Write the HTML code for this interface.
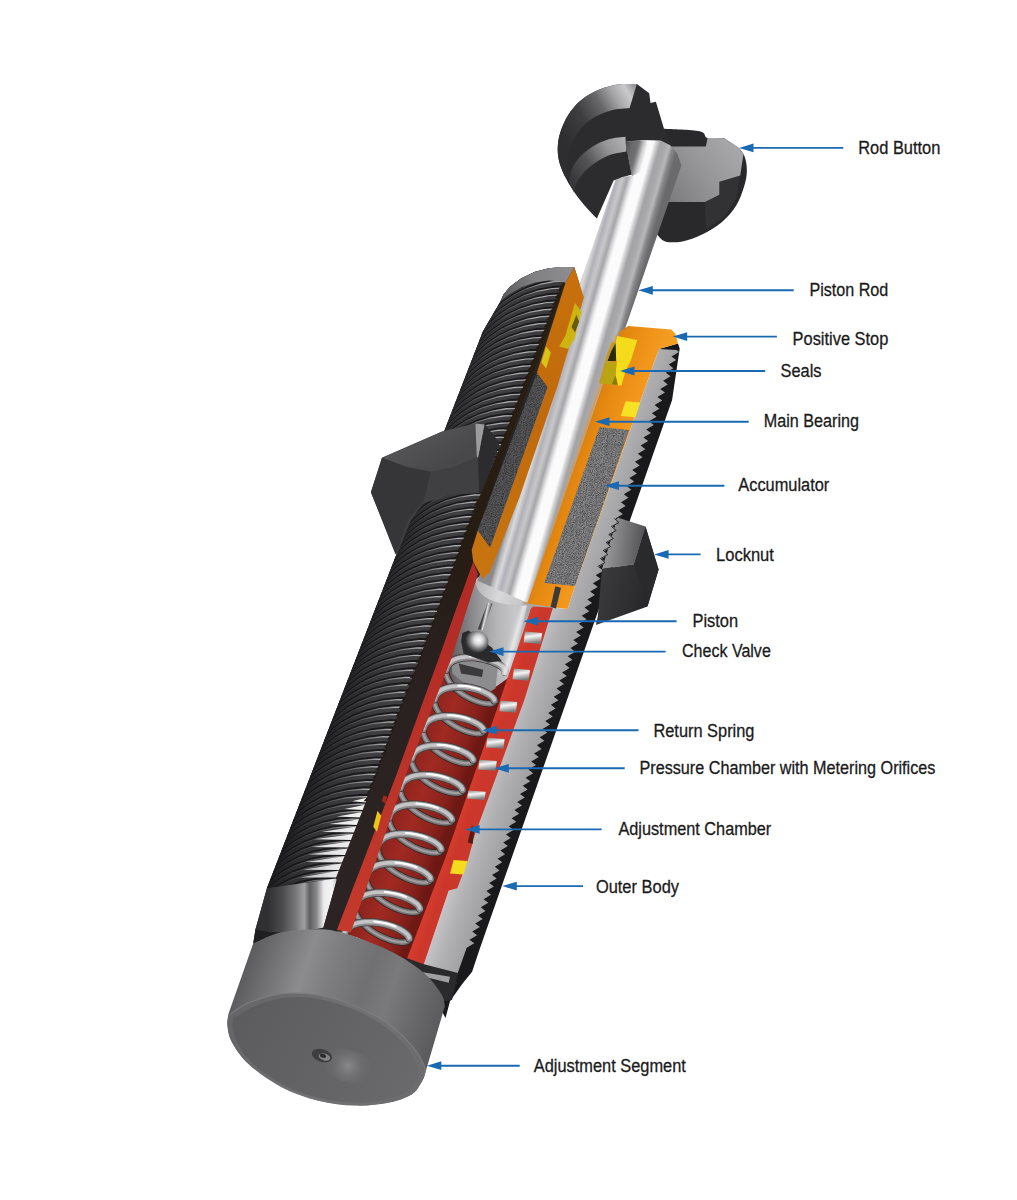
<!DOCTYPE html>
<html><head><meta charset="utf-8"><title>Shock absorber cutaway</title>
<style>html,body{margin:0;padding:0;background:#fff}svg{display:block}text{font-family:"Liberation Sans",sans-serif;font-size:19.2px;fill:#1a1a1a;stroke:#1a1a1a;stroke-width:0.3px}</style>
</head><body>
<svg width="1017" height="1200" viewBox="0 0 1017 1200">
<defs>
<filter id="nz" x="0" y="0" width="100%" height="100%"><feTurbulence type="fractalNoise" baseFrequency="1.1" numOctaves="2" seed="3" result="n"/><feColorMatrix type="matrix" values="0 0 0 0 0  0 0 0 0 0  0 0 0 0 0  0.55 0.55 0.55 0 -0.66" in="n" result="a"/><feComposite in="a" in2="SourceGraphic" operator="in"/></filter>
<pattern id="foamR" patternUnits="userSpaceOnUse" width="60" height="60"><rect width="60" height="60" fill="#88888a"/><rect width="60" height="60" fill="#4a4a4c" filter="url(#nz)"/></pattern>
<pattern id="foamL" patternUnits="userSpaceOnUse" width="60" height="60"><rect width="60" height="60" fill="#5a5a5c"/><rect width="60" height="60" fill="#2c2c2e" filter="url(#nz)"/></pattern>
<linearGradient id="g1" gradientUnits="userSpaceOnUse" x1="419.4" y1="467.8" x2="502.3" y2="497.3"><stop offset="0" stop-color="#141416"/><stop offset="0.5" stop-color="#1a1a1c"/><stop offset="1" stop-color="#161618"/></linearGradient>
<clipPath id="c2"><polygon points="574.3,267.2 562.6,266.9 548.8,268.3 535.1,271.8 521.3,278.2 510.3,286.5 503.4,294.7 500.6,301.2 483.0,331.3 266.9,888.3 335.7,878.4 367.7,797.3 426.7,640.0 479.1,498.3 502.9,440.7 562.6,283.7"/></clipPath>
<linearGradient id="thl" gradientUnits="userSpaceOnUse" x1="417.5" y1="467.1" x2="481.6" y2="489.9"><stop offset="0" stop-color="#232325"/><stop offset="0.25" stop-color="#3c3c3e"/><stop offset="0.5" stop-color="#58585a"/><stop offset="0.75" stop-color="#868688"/><stop offset="0.92" stop-color="#b0b0b2"/><stop offset="1" stop-color="#a0a0a2"/></linearGradient>
<linearGradient id="thm" gradientUnits="userSpaceOnUse" x1="417.5" y1="467.1" x2="481.6" y2="489.9"><stop offset="0" stop-color="#1c1c1e"/><stop offset="0.25" stop-color="#2c2c2e"/><stop offset="0.5" stop-color="#38383a"/><stop offset="0.8" stop-color="#404042"/><stop offset="1" stop-color="#3a3a3c"/></linearGradient>
<linearGradient id="g5" gradientUnits="userSpaceOnUse" x1="500.6" y1="291.3" x2="574.3" y2="270.6"><stop offset="0" stop-color="#5a5a5c"/><stop offset="0.45" stop-color="#808082"/><stop offset="1" stop-color="#8e8e90"/></linearGradient>
<linearGradient id="g6" gradientUnits="userSpaceOnUse" x1="267.8" y1="894.7" x2="337.8" y2="894.7"><stop offset="0" stop-color="#303032"/><stop offset="0.2" stop-color="#4a4a4c"/><stop offset="0.4" stop-color="#77777a"/><stop offset="0.52" stop-color="#a0a0a2"/><stop offset="0.6" stop-color="#5e5e60"/><stop offset="0.7" stop-color="#8a8a8c"/><stop offset="0.8" stop-color="#ececee"/><stop offset="0.92" stop-color="#f4f4f4"/><stop offset="1" stop-color="#b0b0b2"/></linearGradient>
<linearGradient id="teethg" gradientUnits="userSpaceOnUse" x1="303.7" y1="836.7" x2="357.8" y2="836.7"><stop offset="0" stop-color="#bcbcbe"/><stop offset="0.5" stop-color="#e4e4e6"/><stop offset="1" stop-color="#f0f0f0"/></linearGradient>
<linearGradient id="g8" gradientUnits="userSpaceOnUse" x1="370.9" y1="492.2" x2="482.7" y2="461.5"><stop offset="0" stop-color="#3c3c3e"/><stop offset="0.5" stop-color="#424244"/><stop offset="1" stop-color="#38383a"/></linearGradient>
<linearGradient id="g9" gradientUnits="userSpaceOnUse" x1="411.5" y1="432.0" x2="436.0" y2="471.3"><stop offset="0" stop-color="#565658"/><stop offset="1" stop-color="#48484a"/></linearGradient>
<linearGradient id="g10" gradientUnits="userSpaceOnUse" x1="339.8" y1="864.1" x2="424.6" y2="894.3"><stop offset="0" stop-color="#5a1410"/><stop offset="0.25" stop-color="#82201a"/><stop offset="0.6" stop-color="#a02a22"/><stop offset="0.85" stop-color="#8a221c"/><stop offset="1" stop-color="#6e1814"/></linearGradient>
<linearGradient id="g11" gradientUnits="userSpaceOnUse" x1="448.8" y1="641.5" x2="527.5" y2="641.5"><stop offset="0" stop-color="#5a5a5c"/><stop offset="0.3" stop-color="#8a8a8c"/><stop offset="0.6" stop-color="#b4b4b6"/><stop offset="0.85" stop-color="#c8c8ca"/><stop offset="1" stop-color="#a8a8aa"/></linearGradient>
<linearGradient id="pin" gradientUnits="userSpaceOnUse" x1="483.2" y1="616.9" x2="488.2" y2="618.1"><stop offset="0" stop-color="#444"/><stop offset="0.4" stop-color="#e0e0e0"/><stop offset="1" stop-color="#666"/></linearGradient>
<radialGradient id="g13" gradientUnits="userSpaceOnUse" cx="478.4" cy="639.9" r="13.0" ><stop offset="0" stop-color="#ffffff"/><stop offset="0.35" stop-color="#d8d8d8"/><stop offset="0.7" stop-color="#77777a"/><stop offset="1" stop-color="#2e2e30"/></radialGradient>
<linearGradient id="g14" gradientUnits="userSpaceOnUse" x1="475.4" y1="587.7" x2="522.6" y2="599.5"><stop offset="0" stop-color="#b4b4b6"/><stop offset="0.5" stop-color="#d8d8da"/><stop offset="1" stop-color="#c6c6c8"/></linearGradient>
<linearGradient id="g15" gradientUnits="userSpaceOnUse" x1="506.1" y1="640.8" x2="522.6" y2="645.5"><stop offset="0" stop-color="#c0c0c2" stop-opacity="0"/><stop offset="0.45" stop-color="#ececee" stop-opacity="0.9"/><stop offset="0.7" stop-color="#d0d0d2" stop-opacity="0.7"/><stop offset="1" stop-color="#b0b0b2" stop-opacity="0"/></linearGradient>
<linearGradient id="g16" gradientUnits="userSpaceOnUse" x1="562.0" y1="133.7" x2="638.2" y2="89.5"><stop offset="0" stop-color="#2e2e30"/><stop offset="0.3" stop-color="#3e3e40"/><stop offset="0.55" stop-color="#68686a"/><stop offset="0.72" stop-color="#a2a2a4"/><stop offset="0.88" stop-color="#cacacc"/><stop offset="1" stop-color="#8e8e90"/></linearGradient>
<linearGradient id="g17" gradientUnits="userSpaceOnUse" x1="570.6" y1="178.0" x2="628.3" y2="141.1"><stop offset="0" stop-color="#38383a"/><stop offset="0.35" stop-color="#545456"/><stop offset="0.7" stop-color="#969698"/><stop offset="1" stop-color="#b4b4b6"/></linearGradient>
<linearGradient id="g18" gradientUnits="userSpaceOnUse" x1="667.7" y1="197.7" x2="738.9" y2="143.6"><stop offset="0" stop-color="#7c7c7e"/><stop offset="0.5" stop-color="#969698"/><stop offset="1" stop-color="#aaaaac"/></linearGradient>
<linearGradient id="g19" gradientUnits="userSpaceOnUse" x1="556.1" y1="350.0" x2="615.7" y2="366.9"><stop offset="0" stop-color="#8a8a8c"/><stop offset="0.05" stop-color="#b8b8ba"/><stop offset="0.11" stop-color="#dadadc"/><stop offset="0.19" stop-color="#b0b0b8"/><stop offset="0.27" stop-color="#c8c8ca"/><stop offset="0.35" stop-color="#a6a6a8"/><stop offset="0.42" stop-color="#e4e4e6"/><stop offset="0.46" stop-color="#fbfbfb"/><stop offset="0.6" stop-color="#fbfbfb"/><stop offset="0.65" stop-color="#d0d0d2"/><stop offset="0.71" stop-color="#a4a4a6"/><stop offset="0.79" stop-color="#a8a8aa"/><stop offset="0.86" stop-color="#b8b8ba"/><stop offset="0.92" stop-color="#88888a"/><stop offset="1" stop-color="#6a6a6c"/></linearGradient>
<linearGradient id="g20" gradientUnits="userSpaceOnUse" x1="613.9" y1="335.0" x2="619.4" y2="336.8"><stop offset="0" stop-color="#d8964a" stop-opacity="0"/><stop offset="0.5" stop-color="#d8964a" stop-opacity="0.75"/><stop offset="1" stop-color="#c88a40" stop-opacity="0.3"/></linearGradient>
<linearGradient id="g21" gradientUnits="userSpaceOnUse" x1="625.4" y1="141.8" x2="647.4" y2="147.8"><stop offset="0" stop-color="#444446" stop-opacity="0.92"/><stop offset="0.6" stop-color="#5e5e60" stop-opacity="0.7"/><stop offset="1" stop-color="#808082" stop-opacity="0.0"/></linearGradient>
<linearGradient id="g22" gradientUnits="userSpaceOnUse" x1="560.0" y1="285.0" x2="340.0" y2="930.0"><stop offset="0" stop-color="#2a2010"/><stop offset="0.4" stop-color="#261c12"/><stop offset="0.6" stop-color="#2a2020"/><stop offset="1" stop-color="#2c2424"/></linearGradient>
<linearGradient id="g23" gradientUnits="userSpaceOnUse" x1="575.0" y1="270.0" x2="480.0" y2="570.0"><stop offset="0" stop-color="#c8700c"/><stop offset="0.5" stop-color="#c06a0c"/><stop offset="1" stop-color="#c87410"/></linearGradient>
<linearGradient id="g24" gradientUnits="userSpaceOnUse" x1="470.0" y1="565.0" x2="345.0" y2="930.0"><stop offset="0" stop-color="#b02a24"/><stop offset="1" stop-color="#c43a2c"/></linearGradient>
<linearGradient id="g25" gradientUnits="userSpaceOnUse" x1="477.0" y1="806.8" x2="516.6" y2="820.8"><stop offset="0" stop-color="#c6c6c8"/><stop offset="0.4" stop-color="#b2b2b4"/><stop offset="1" stop-color="#9e9ea0"/></linearGradient>
<linearGradient id="g26" gradientUnits="userSpaceOnUse" x1="515.8" y1="608.3" x2="581.8" y2="631.8"><stop offset="0" stop-color="#d87c0c"/><stop offset="0.25" stop-color="#e68a12"/><stop offset="0.6" stop-color="#f2961c"/><stop offset="1" stop-color="#f8a42a"/></linearGradient>
<linearGradient id="g27" gradientUnits="userSpaceOnUse" x1="398.4" y1="938.0" x2="422.9" y2="946.7"><stop offset="0" stop-color="#c93629"/><stop offset="0.5" stop-color="#d83d2e"/><stop offset="1" stop-color="#cb372a"/></linearGradient>
<linearGradient id="pinh" x1="0" y1="0" x2="0.2" y2="1"><stop offset="0" stop-color="#8a8a8c"/><stop offset="0.45" stop-color="#f6f6f6"/><stop offset="1" stop-color="#7a7a7c"/></linearGradient>
<linearGradient id="g28" gradientUnits="userSpaceOnUse" x1="605.7" y1="542.6" x2="645.0" y2="547.5"><stop offset="0" stop-color="#9a9a9c"/><stop offset="0.4" stop-color="#7c7c7e"/><stop offset="1" stop-color="#505052"/></linearGradient>
<linearGradient id="g29" gradientUnits="userSpaceOnUse" x1="603.2" y1="572.1" x2="657.3" y2="586.8"><stop offset="0" stop-color="#3a3a3c"/><stop offset="0.6" stop-color="#2e2e30"/><stop offset="1" stop-color="#262628"/></linearGradient>
<linearGradient id="g30" gradientUnits="userSpaceOnUse" x1="184.2" y1="1116.5" x2="383.9" y2="1187.6"><stop offset="0" stop-color="#565658"/><stop offset="0.1" stop-color="#68686a"/><stop offset="0.3" stop-color="#8c8c8e"/><stop offset="0.42" stop-color="#7e7e80"/><stop offset="0.6" stop-color="#707072"/><stop offset="0.72" stop-color="#7a7a7c"/><stop offset="0.85" stop-color="#6a6a6c"/><stop offset="1" stop-color="#5a5a5c"/></linearGradient>
<clipPath id="cc31"><path d="M253.2 943.4 C257.9 941.5 270.6 934.6 281.5 932.3 C292.4 929.9 308.9 929.4 318.3 929.3 C327.7 929.2 331.4 930.4 338.0 931.8 C344.6 933.2 348.7 934.3 357.7 937.7 C366.7 941.1 381.1 946.1 392.1 952.0 C403.2 957.9 415.8 965.9 424.0 972.9 C432.2 979.9 437.7 988.2 441.2 993.7 C444.7 999.2 444.3 1004.0 444.9 1006.0 L424.0 1077.3 L421.6 1082.2 C420.0 1084.2 417.4 1091.0 411.7 1094.5 C406.0 1098.0 396.6 1101.2 387.2 1103.1 C377.8 1104.9 366.7 1106.0 355.2 1105.6 C343.7 1105.2 330.6 1103.8 318.3 1100.7 C306.0 1097.6 293.0 1093.2 281.5 1087.2 C270.0 1081.2 257.7 1072.4 249.5 1065.0 C241.3 1057.6 236.0 1049.5 232.3 1042.9 C228.6 1036.4 228.0 1030.6 227.4 1025.7 C226.8 1020.8 228.4 1015.5 228.6 1013.4Z"/></clipPath>
<linearGradient id="g32" gradientUnits="userSpaceOnUse" x1="240.0" y1="1010.0" x2="420.0" y2="1090.0"><stop offset="0" stop-color="#666668"/><stop offset="0.5" stop-color="#727274"/><stop offset="1" stop-color="#6c6c6e"/></linearGradient>
<linearGradient id="g33" gradientUnits="userSpaceOnUse" x1="240.0" y1="1010.0" x2="410.0" y2="1100.0"><stop offset="0" stop-color="#5c5c5e"/><stop offset="0.5" stop-color="#636365"/><stop offset="1" stop-color="#6a6a6c"/></linearGradient>
<radialGradient id="g34" gradientUnits="userSpaceOnUse" cx="348.0" cy="1066.0" r="28.0" ><stop offset="0" stop-color="#909092" stop-opacity="0.85"/><stop offset="0.5" stop-color="#77777a" stop-opacity="0.4"/><stop offset="1" stop-color="#666668" stop-opacity="0"/></radialGradient></defs>
<polygon points="574.3,267.2 562.6,266.9 548.8,268.3 535.1,271.8 521.3,278.2 510.3,286.5 503.4,294.7 500.6,301.2 483.0,331.3 266.9,888.3 255.5,929.2 253.2,943.4 338.0,931.8 352.9,932.4 458.6,640.0 477.8,580.7 519.5,497.3 557.2,387.2 583.9,297.5" fill="#262628" />
<polygon points="574.3,267.2 562.6,266.9 548.8,268.3 535.1,271.8 521.3,278.2 510.3,286.5 503.4,294.7 500.6,301.2 483.0,331.3 266.9,888.3 335.7,878.4 367.7,797.3 426.7,640.0 479.1,498.3 502.9,440.7 562.6,283.7" fill="url(#g1)" />
<g clip-path="url(#c2)">
<polygon points="475.1,340.8 479.2,327.8 484.4,317.0 490.9,306.9 498.7,297.8 507.7,289.6 519.2,281.7 531.9,275.4 545.4,270.9 559.5,268.2 574.0,267.5 592.1,269.3 590.8,272.9 572.6,271.1 558.1,271.9 544.0,274.5 530.5,279.0 517.8,285.3 506.3,293.2 497.3,301.3 489.5,310.5 483.0,320.6 477.8,331.4 473.7,344.4" fill="url(#thm)" />
<polygon points="475.7,339.5 479.8,326.4 484.9,315.6 491.4,305.6 499.3,296.4 508.2,288.2 519.8,280.3 532.4,274.0 545.9,269.5 560.0,266.8 574.5,266.1 592.7,267.9 592.1,269.3 574.0,267.5 559.5,268.2 545.4,270.9 531.9,275.4 519.2,281.7 507.7,289.6 498.7,297.8 490.9,306.9 484.4,317.0 479.2,327.8 475.1,340.8" fill="url(#thl)" />
<polygon points="472.5,347.7 476.6,334.7 481.7,323.9 488.2,313.8 496.1,304.7 505.0,296.5 516.6,288.6 529.2,282.4 542.7,277.9 556.9,275.2 571.4,274.5 589.5,276.3 588.2,279.9 570.0,278.2 555.5,278.9 541.3,281.5 527.8,286.0 515.2,292.2 503.6,300.1 494.7,308.3 486.8,317.4 480.3,327.5 475.2,338.2 471.1,351.2" fill="url(#thm)" />
<polygon points="473.0,346.3 477.1,333.3 482.2,322.5 488.8,312.5 496.6,303.3 505.6,295.1 517.1,287.2 529.7,281.0 543.3,276.5 557.4,273.8 571.9,273.1 590.0,274.9 589.5,276.3 571.4,274.5 556.9,275.2 542.7,277.9 529.2,282.4 516.6,288.6 505.0,296.5 496.1,304.7 488.2,313.8 481.7,323.9 476.6,334.7 472.5,347.7" fill="url(#thl)" />
<polygon points="469.8,354.5 473.9,341.5 479.0,330.8 485.6,320.7 493.4,311.6 502.4,303.5 513.9,295.6 526.5,289.3 540.1,284.9 554.2,282.2 568.7,281.5 586.9,283.3 585.5,287.0 567.3,285.2 552.8,285.9 538.7,288.5 525.1,293.0 512.5,299.2 501.0,307.1 492.0,315.2 484.2,324.3 477.7,334.3 472.5,345.1 468.4,358.1" fill="url(#thm)" />
<polygon points="470.3,353.2 474.4,340.2 479.6,329.4 486.1,319.4 493.9,310.2 502.9,302.1 514.4,294.2 527.1,287.9 540.6,283.5 554.8,280.8 569.2,280.1 587.4,281.9 586.9,283.3 568.7,281.5 554.2,282.2 540.1,284.9 526.5,289.3 513.9,295.6 502.4,303.5 493.4,311.6 485.6,320.7 479.0,330.8 473.9,341.5 469.8,354.5" fill="url(#thl)" />
<polygon points="467.2,361.4 471.2,348.4 476.4,337.7 482.9,327.6 490.7,318.5 499.7,310.4 511.2,302.5 523.9,296.3 537.4,291.9 551.6,289.3 566.1,288.6 584.3,290.4 582.9,294.0 564.7,292.2 550.2,292.9 536.0,295.5 522.5,300.0 509.8,306.2 498.3,314.0 489.3,322.1 481.5,331.2 475.0,341.2 469.8,352.0 465.8,364.9" fill="url(#thm)" />
<polygon points="467.7,360.0 471.8,347.0 476.9,336.3 483.4,326.3 491.2,317.1 500.2,309.0 511.7,301.2 524.4,294.9 537.9,290.5 552.1,287.9 566.6,287.2 584.8,289.0 584.3,290.4 566.1,288.6 551.6,289.3 537.4,291.9 523.9,296.3 511.2,302.5 499.7,310.4 490.7,318.5 482.9,327.6 476.4,337.7 471.2,348.4 467.2,361.4" fill="url(#thl)" />
<polygon points="464.5,368.2 468.6,355.3 473.7,344.6 480.2,334.6 488.0,325.5 497.0,317.4 508.5,309.5 521.2,303.3 534.7,298.9 548.9,296.3 563.4,295.6 581.6,297.4 580.3,301.1 562.1,299.3 547.5,299.9 533.4,302.5 519.8,307.0 507.1,313.1 495.6,321.0 486.6,329.1 478.8,338.2 472.3,348.1 467.2,358.9 463.1,371.8" fill="url(#thm)" />
<polygon points="465.0,366.9 469.1,353.9 474.2,343.2 480.7,333.2 488.6,324.1 497.5,316.0 509.1,308.1 521.7,301.9 535.3,297.5 549.4,294.9 564.0,294.2 582.2,296.0 581.6,297.4 563.4,295.6 548.9,296.3 534.7,298.9 521.2,303.3 508.5,309.5 497.0,317.4 488.0,325.5 480.2,334.6 473.7,344.6 468.6,355.3 464.5,368.2" fill="url(#thl)" />
<polygon points="461.8,375.1 465.9,362.2 471.0,351.5 477.5,341.5 485.3,332.4 494.3,324.3 505.9,316.5 518.5,310.3 532.1,305.9 546.3,303.3 560.8,302.6 579.0,304.5 577.6,308.1 559.4,306.3 544.9,307.0 530.7,309.5 517.1,314.0 504.5,320.1 492.9,327.9 483.9,336.0 476.1,345.1 469.6,355.1 464.5,365.8 460.4,378.7" fill="url(#thm)" />
<polygon points="462.4,373.7 466.4,360.8 471.6,350.1 478.1,340.1 485.9,331.0 494.9,322.9 506.4,315.1 519.1,308.9 532.6,304.5 546.8,301.9 561.3,301.2 579.5,303.1 579.0,304.5 560.8,302.6 546.3,303.3 532.1,305.9 518.5,310.3 505.9,316.5 494.3,324.3 485.3,332.4 477.5,341.5 471.0,351.5 465.9,362.2 461.8,375.1" fill="url(#thl)" />
<polygon points="459.2,382.0 463.2,369.1 468.3,358.4 474.8,348.4 482.7,339.3 491.6,331.3 503.2,323.5 515.8,317.3 529.4,312.9 543.6,310.4 558.1,309.7 576.4,311.5 575.0,315.2 556.8,313.4 542.2,314.0 528.0,316.6 514.5,321.0 501.8,327.1 490.2,334.9 481.3,343.0 473.5,352.0 466.9,362.0 461.8,372.6 457.8,385.6" fill="url(#thm)" />
<polygon points="459.7,380.6 463.8,367.7 468.9,357.0 475.4,347.0 483.2,337.9 492.2,329.9 503.7,322.1 516.4,315.9 529.9,311.5 544.1,308.9 558.7,308.3 576.9,310.1 576.4,311.5 558.1,309.7 543.6,310.4 529.4,312.9 515.8,317.3 503.2,323.5 491.6,331.3 482.7,339.3 474.8,348.4 468.3,358.4 463.2,369.1 459.2,382.0" fill="url(#thl)" />
<polygon points="456.5,388.9 460.5,376.0 465.7,365.3 472.2,355.3 480.0,346.3 489.0,338.3 500.5,330.5 513.2,324.3 526.7,319.9 540.9,317.4 555.5,316.7 573.7,318.6 572.4,322.3 554.1,320.4 539.6,321.1 525.3,323.6 511.8,328.0 499.1,334.1 487.6,341.9 478.6,349.9 470.8,359.0 464.3,368.9 459.1,379.5 455.1,392.4" fill="url(#thm)" />
<polygon points="457.0,387.5 461.1,374.6 466.2,363.9 472.7,354.0 480.5,344.9 489.5,336.9 501.0,329.1 513.7,322.9 527.3,318.5 541.5,316.0 556.0,315.3 574.3,317.2 573.7,318.6 555.5,316.7 540.9,317.4 526.7,319.9 513.2,324.3 500.5,330.5 489.0,338.3 480.0,346.3 472.2,355.3 465.7,365.3 460.5,376.0 456.5,388.9" fill="url(#thl)" />
<polygon points="453.8,395.7 457.9,382.9 463.0,372.2 469.5,362.3 477.3,353.3 486.3,345.2 497.8,337.5 510.5,331.3 524.1,327.0 538.3,324.4 552.8,323.8 571.1,325.7 569.7,329.4 551.5,327.5 536.9,328.1 522.7,330.6 509.1,335.0 496.4,341.1 484.9,348.9 475.9,356.9 468.1,365.9 461.6,375.8 456.5,386.5 452.4,399.3" fill="url(#thm)" />
<polygon points="454.4,394.4 458.4,381.5 463.5,370.8 470.0,360.9 477.8,351.9 486.8,343.8 498.3,336.1 511.0,329.9 524.6,325.6 538.8,323.0 553.4,322.4 571.6,324.3 571.1,325.7 552.8,323.8 538.3,324.4 524.1,327.0 510.5,331.3 497.8,337.5 486.3,345.2 477.3,353.3 469.5,362.3 463.0,372.2 457.9,382.9 453.8,395.7" fill="url(#thl)" />
<polygon points="451.1,402.6 455.2,389.8 460.3,379.1 466.8,369.2 474.6,360.2 483.6,352.2 495.1,344.5 507.8,338.4 521.4,334.0 535.6,331.5 550.2,330.9 568.5,332.8 567.1,336.5 548.8,334.6 534.2,335.2 520.0,337.7 506.4,342.0 493.7,348.1 482.2,355.9 473.2,363.8 465.4,372.8 458.9,382.7 453.8,393.4 449.8,406.2" fill="url(#thm)" />
<polygon points="451.7,401.2 455.7,388.4 460.8,377.7 467.3,367.8 475.1,358.8 484.1,350.8 495.7,343.1 508.3,337.0 521.9,332.6 536.1,330.1 550.7,329.5 569.0,331.4 568.5,332.8 550.2,330.9 535.6,331.5 521.4,334.0 507.8,338.4 495.1,344.5 483.6,352.2 474.6,360.2 466.8,369.2 460.3,379.1 455.2,389.8 451.1,402.6" fill="url(#thl)" />
<polygon points="448.5,409.5 452.5,396.7 457.6,386.1 464.1,376.2 471.9,367.2 480.9,359.2 492.4,351.5 505.1,345.4 518.7,341.1 532.9,338.6 547.5,338.0 565.8,339.9 564.5,343.5 546.1,341.6 531.5,342.2 517.3,344.7 503.7,349.1 491.0,355.1 479.5,362.8 470.5,370.8 462.7,379.8 456.2,389.7 451.1,400.3 447.1,413.1" fill="url(#thm)" />
<polygon points="449.0,408.1 453.0,395.3 458.1,384.7 464.6,374.8 472.4,365.8 481.4,357.8 493.0,350.1 505.7,344.0 519.2,339.7 533.5,337.2 548.1,336.5 566.4,338.4 565.8,339.9 547.5,338.0 532.9,338.6 518.7,341.1 505.1,345.4 492.4,351.5 480.9,359.2 471.9,367.2 464.1,376.2 457.6,386.1 452.5,396.7 448.5,409.5" fill="url(#thl)" />
<polygon points="445.8,416.4 449.8,403.6 454.9,393.0 461.4,383.1 469.2,374.2 478.2,366.2 489.7,358.5 502.4,352.4 516.0,348.1 530.3,345.6 544.9,345.0 563.2,347.0 561.8,350.7 543.5,348.7 528.9,349.3 514.6,351.8 501.0,356.1 488.3,362.2 476.8,369.8 467.8,377.8 460.0,386.8 453.5,396.6 448.4,407.2 444.4,420.0" fill="url(#thm)" />
<polygon points="446.3,415.0 450.3,402.2 455.4,391.6 461.9,381.8 469.7,372.8 478.7,364.8 490.3,357.1 503.0,351.0 516.6,346.7 530.8,344.2 545.4,343.6 563.7,345.5 563.2,347.0 544.9,345.0 530.3,345.6 516.0,348.1 502.4,352.4 489.7,358.5 478.2,366.2 469.2,374.2 461.4,383.1 454.9,393.0 449.8,403.6 445.8,416.4" fill="url(#thl)" />
<polygon points="443.1,423.3 447.1,410.5 452.2,400.0 458.7,390.1 466.5,381.2 475.5,373.2 487.0,365.5 499.7,359.5 513.3,355.2 527.6,352.7 542.2,352.1 560.5,354.1 559.2,357.8 540.8,355.8 526.2,356.4 511.9,358.9 498.3,363.1 485.6,369.2 474.1,376.9 465.1,384.8 457.3,393.7 450.8,403.6 445.7,414.1 441.7,426.9" fill="url(#thm)" />
<polygon points="443.7,421.9 447.7,409.2 452.7,398.6 459.2,388.7 467.0,379.8 476.0,371.8 487.6,364.1 500.3,358.1 513.9,353.8 528.1,351.3 542.7,350.7 561.1,352.6 560.5,354.1 542.2,352.1 527.6,352.7 513.3,355.2 499.7,359.5 487.0,365.5 475.5,373.2 466.5,381.2 458.7,390.1 452.2,400.0 447.1,410.5 443.1,423.3" fill="url(#thl)" />
<polygon points="440.4,430.2 444.4,417.5 449.5,406.9 456.0,397.1 463.8,388.1 472.8,380.2 484.3,372.6 497.0,366.5 510.7,362.2 524.9,359.8 539.5,359.2 557.9,361.2 556.5,364.9 538.1,362.9 523.5,363.5 509.3,365.9 495.6,370.2 482.9,376.2 471.4,383.9 462.4,391.8 454.6,400.7 448.1,410.5 443.0,421.1 439.0,433.8" fill="url(#thm)" />
<polygon points="441.0,428.9 445.0,416.1 450.1,405.5 456.5,395.7 464.3,386.7 473.3,378.8 484.9,371.2 497.6,365.1 511.2,360.8 525.5,358.4 540.1,357.8 558.4,359.7 557.9,361.2 539.5,359.2 524.9,359.8 510.7,362.2 497.0,366.5 484.3,372.6 472.8,380.2 463.8,388.1 456.0,397.1 449.5,406.9 444.4,417.5 440.4,430.2" fill="url(#thl)" />
<polygon points="437.7,437.2 441.7,424.4 446.8,413.9 453.3,404.1 461.1,395.1 470.1,387.2 481.6,379.6 494.3,373.6 508.0,369.3 522.2,366.9 536.9,366.3 555.2,368.3 553.9,372.0 535.5,370.0 520.8,370.6 506.6,373.0 492.9,377.3 480.2,383.3 468.7,390.9 459.7,398.8 451.9,407.7 445.4,417.5 440.3,428.0 436.3,440.8" fill="url(#thm)" />
<polygon points="438.3,435.8 442.3,423.0 447.4,412.5 453.8,402.7 461.6,393.7 470.6,385.8 482.2,378.2 494.9,372.2 508.5,367.9 522.8,365.5 537.4,364.9 555.8,366.9 555.2,368.3 536.9,366.3 522.2,366.9 508.0,369.3 494.3,373.6 481.6,379.6 470.1,387.2 461.1,395.1 453.3,404.1 446.8,413.9 441.7,424.4 437.7,437.2" fill="url(#thl)" />
<polygon points="435.1,444.1 439.0,431.4 444.1,420.8 450.6,411.0 458.4,402.1 467.4,394.3 478.9,386.6 491.6,380.7 505.3,376.4 519.6,374.0 534.2,373.4 552.6,375.4 551.2,379.1 532.8,377.1 518.2,377.7 503.9,380.1 490.2,384.3 477.5,390.3 466.0,397.9 457.0,405.8 449.2,414.7 442.7,424.5 437.6,435.0 433.7,447.7" fill="url(#thm)" />
<polygon points="435.6,442.7 439.6,430.0 444.7,419.4 451.1,409.6 458.9,400.7 467.9,392.9 479.5,385.2 492.2,379.2 505.8,375.0 520.1,372.6 534.7,372.0 553.1,374.0 552.6,375.4 534.2,373.4 519.6,374.0 505.3,376.4 491.6,380.7 478.9,386.6 467.4,394.3 458.4,402.1 450.6,411.0 444.1,420.8 439.0,431.4 435.1,444.1" fill="url(#thl)" />
<polygon points="432.4,451.0 436.3,438.3 441.4,427.8 447.9,418.0 455.7,409.2 464.7,401.3 476.2,393.7 488.9,387.7 502.6,383.5 516.9,381.1 531.5,380.6 549.9,382.5 548.5,386.3 530.1,384.3 515.5,384.8 501.2,387.2 487.5,391.4 474.8,397.4 463.3,404.9 454.3,412.8 446.5,421.7 440.0,431.4 434.9,441.9 431.0,454.6" fill="url(#thm)" />
<polygon points="432.9,449.6 436.9,436.9 442.0,426.4 448.4,416.6 456.2,407.8 465.2,399.9 476.8,392.3 489.5,386.3 503.1,382.1 517.4,379.7 532.1,379.1 550.5,381.1 549.9,382.5 531.5,380.6 516.9,381.1 502.6,383.5 488.9,387.7 476.2,393.7 464.7,401.3 455.7,409.2 447.9,418.0 441.4,427.8 436.3,438.3 432.4,451.0" fill="url(#thl)" />
<polygon points="429.7,458.0 433.6,445.3 438.7,434.8 445.2,425.0 453.0,416.2 462.0,408.3 473.5,400.7 486.2,394.8 499.9,390.6 514.2,388.2 528.8,387.7 547.3,389.7 545.9,393.4 527.5,391.4 512.8,391.9 498.5,394.3 484.8,398.5 472.1,404.4 460.5,412.0 451.6,419.8 443.8,428.7 437.3,438.4 432.2,448.9 428.3,461.6" fill="url(#thm)" />
<polygon points="430.2,456.6 434.2,443.9 439.2,433.4 445.7,423.6 453.5,414.8 462.5,406.9 474.1,399.3 486.8,393.4 500.4,389.2 514.7,386.8 529.4,386.3 547.8,388.3 547.3,389.7 528.8,387.7 514.2,388.2 499.9,390.6 486.2,394.8 473.5,400.7 462.0,408.3 453.0,416.2 445.2,425.0 438.7,434.8 433.6,445.3 429.7,458.0" fill="url(#thl)" />
<polygon points="427.0,464.9 430.9,452.2 436.0,441.8 442.5,432.0 450.3,423.2 459.2,415.4 470.8,407.8 483.5,401.9 497.2,397.7 511.5,395.3 526.2,394.8 544.6,396.8 543.2,400.6 524.8,398.5 510.1,399.0 495.8,401.4 482.1,405.6 469.4,411.5 457.8,419.0 448.8,426.9 441.1,435.7 434.6,445.4 429.5,455.9 425.6,468.5" fill="url(#thm)" />
<polygon points="427.5,463.5 431.5,450.8 436.5,440.4 443.0,430.6 450.8,421.8 459.8,414.0 471.3,406.4 484.1,400.5 497.7,396.3 512.0,393.9 526.7,393.4 545.1,395.4 544.6,396.8 526.2,394.8 511.5,395.3 497.2,397.7 483.5,401.9 470.8,407.8 459.2,415.4 450.3,423.2 442.5,432.0 436.0,441.8 430.9,452.2 427.0,464.9" fill="url(#thl)" />
<polygon points="424.3,471.8 428.2,459.2 433.3,448.8 439.8,439.1 447.5,430.2 456.5,422.4 468.1,414.9 480.8,409.0 494.5,404.8 508.8,402.4 523.5,402.0 541.9,404.0 540.6,407.7 522.1,405.7 507.4,406.2 493.1,408.5 479.4,412.7 466.7,418.6 455.1,426.1 446.1,433.9 438.3,442.7 431.9,452.4 426.8,462.8 422.9,475.5" fill="url(#thm)" />
<polygon points="424.8,470.5 428.8,457.8 433.8,447.4 440.3,437.6 448.1,428.8 457.1,421.0 468.6,413.5 481.4,407.6 495.0,403.4 509.3,401.0 524.0,400.5 542.5,402.6 541.9,404.0 523.5,402.0 508.8,402.4 494.5,404.8 480.8,409.0 468.1,414.9 456.5,422.4 447.5,430.2 439.8,439.1 433.3,448.8 428.2,459.2 424.3,471.8" fill="url(#thl)" />
<polygon points="421.6,478.8 425.5,466.2 430.6,455.8 437.0,446.1 444.8,437.3 453.8,429.5 465.4,422.0 478.1,416.1 491.8,411.9 506.1,409.6 520.8,409.1 539.3,411.1 537.9,414.9 519.4,412.8 504.7,413.3 490.4,415.6 476.7,419.8 464.0,425.6 452.4,433.1 443.4,440.9 435.6,449.7 429.2,459.4 424.1,469.8 420.2,482.4" fill="url(#thm)" />
<polygon points="422.1,477.4 426.1,464.8 431.1,454.4 437.6,444.7 445.4,435.9 454.3,428.1 465.9,420.5 478.7,414.6 492.3,410.5 506.6,408.1 521.3,407.7 539.8,409.7 539.3,411.1 520.8,409.1 506.1,409.6 491.8,411.9 478.1,416.1 465.4,422.0 453.8,429.5 444.8,437.3 437.0,446.1 430.6,455.8 425.5,466.2 421.6,478.8" fill="url(#thl)" />
<polygon points="418.9,485.8 422.8,473.2 427.9,462.8 434.3,453.1 442.1,444.3 451.1,436.5 462.7,429.0 475.4,423.2 489.1,419.0 503.4,416.7 518.1,416.3 536.6,418.3 535.2,422.0 516.7,420.0 502.0,420.4 487.7,422.7 474.0,426.9 461.2,432.7 449.7,440.2 440.7,448.0 432.9,456.7 426.4,466.4 421.4,476.8 417.5,489.4" fill="url(#thm)" />
<polygon points="419.4,484.4 423.4,471.8 428.4,461.4 434.9,451.7 442.6,442.9 451.6,435.1 463.2,427.6 475.9,421.7 489.6,417.6 503.9,415.3 518.7,414.8 537.1,416.9 536.6,418.3 518.1,416.3 503.4,416.7 489.1,419.0 475.4,423.2 462.7,429.0 451.1,436.5 442.1,444.3 434.3,453.1 427.9,462.8 422.8,473.2 418.9,485.8" fill="url(#thl)" />
<polygon points="416.2,492.7 420.1,480.2 425.1,469.8 431.6,460.1 439.4,451.4 448.4,443.6 459.9,436.1 472.7,430.3 486.4,426.2 500.7,423.9 515.4,423.4 533.9,425.5 532.5,429.2 514.0,427.1 499.3,427.6 485.0,429.9 471.3,434.0 458.5,439.8 446.9,447.3 438.0,455.0 430.2,463.8 423.7,473.4 418.7,483.8 414.8,496.4" fill="url(#thm)" />
<polygon points="416.7,491.3 420.6,478.8 425.7,468.4 432.1,458.7 439.9,449.9 448.9,442.2 460.5,434.7 473.2,428.9 486.9,424.7 501.2,422.4 516.0,422.0 534.5,424.0 533.9,425.5 515.4,423.4 500.7,423.9 486.4,426.2 472.7,430.3 459.9,436.1 448.4,443.6 439.4,451.4 431.6,460.1 425.1,469.8 420.1,480.2 416.2,492.7" fill="url(#thl)" />
<polygon points="413.5,499.7 417.4,487.2 422.4,476.8 428.9,467.2 436.6,458.4 445.6,450.7 457.2,443.2 470.0,437.4 483.7,433.3 498.0,431.0 512.7,430.6 531.3,432.7 529.9,436.4 511.3,434.3 496.6,434.7 482.2,437.0 468.6,441.1 455.8,446.9 444.2,454.4 435.2,462.1 427.5,470.8 421.0,480.4 416.0,490.8 412.1,503.3" fill="url(#thm)" />
<polygon points="414.0,498.3 417.9,485.8 423.0,475.4 429.4,465.7 437.2,457.0 446.2,449.3 457.8,441.8 470.5,436.0 484.2,431.9 498.5,429.6 513.3,429.1 531.8,431.2 531.3,432.7 512.7,430.6 498.0,431.0 483.7,433.3 470.0,437.4 457.2,443.2 445.6,450.7 436.6,458.4 428.9,467.2 422.4,476.8 417.4,487.2 413.5,499.7" fill="url(#thl)" />
<polygon points="410.8,506.7 414.7,494.2 419.7,483.8 426.1,474.2 433.9,465.5 442.9,457.8 454.5,450.3 467.2,444.5 480.9,440.4 495.3,438.2 510.0,437.8 528.6,439.9 527.2,443.6 508.6,441.5 493.9,441.9 479.5,444.2 465.8,448.2 453.1,454.0 441.5,461.4 432.5,469.1 424.7,477.9 418.3,487.5 413.3,497.8 409.4,510.3" fill="url(#thm)" />
<polygon points="411.3,505.3 415.2,492.8 420.2,482.4 426.7,472.8 434.5,464.1 443.4,456.3 455.0,448.9 467.8,443.1 481.5,439.0 495.8,436.7 510.6,436.3 529.1,438.4 528.6,439.9 510.0,437.8 495.3,438.2 480.9,440.4 467.2,444.5 454.5,450.3 442.9,457.8 433.9,465.5 426.1,474.2 419.7,483.8 414.7,494.2 410.8,506.7" fill="url(#thl)" />
<polygon points="408.1,513.7 411.9,501.2 417.0,490.8 423.4,481.2 431.2,472.5 440.2,464.8 451.8,457.4 464.5,451.7 478.2,447.6 492.6,445.3 507.3,444.9 525.9,447.0 524.5,450.8 505.9,448.7 491.2,449.1 476.8,451.3 463.1,455.4 450.3,461.1 438.8,468.5 429.8,476.2 422.0,484.9 415.5,494.5 410.5,504.8 406.6,517.3" fill="url(#thm)" />
<polygon points="408.6,512.3 412.5,499.8 417.5,489.4 424.0,479.8 431.7,471.1 440.7,463.4 452.3,456.0 465.1,450.2 478.8,446.2 493.1,443.9 507.9,443.5 526.4,445.6 525.9,447.0 507.3,444.9 492.6,445.3 478.2,447.6 464.5,451.7 451.8,457.4 440.2,464.8 431.2,472.5 423.4,481.2 417.0,490.8 411.9,501.2 408.1,513.7" fill="url(#thl)" />
<polygon points="405.3,520.7 409.2,508.2 414.2,497.9 420.7,488.3 428.5,479.6 437.4,471.9 449.0,464.6 461.8,458.8 475.5,454.7 489.9,452.5 504.7,452.1 523.2,454.2 521.8,458.0 503.2,455.9 488.5,456.2 474.1,458.5 460.4,462.5 447.6,468.3 436.0,475.6 427.0,483.3 419.3,492.0 412.8,501.5 407.8,511.8 403.9,524.3" fill="url(#thm)" />
<polygon points="405.9,519.3 409.8,506.8 414.8,496.5 421.2,486.9 429.0,478.2 438.0,470.5 449.6,463.1 462.3,457.4 476.0,453.3 490.4,451.1 505.2,450.7 523.8,452.8 523.2,454.2 504.7,452.1 489.9,452.5 475.5,454.7 461.8,458.8 449.0,464.6 437.4,471.9 428.5,479.6 420.7,488.3 414.2,497.9 409.2,508.2 405.3,520.7" fill="url(#thl)" />
<polygon points="402.6,527.7 406.5,515.2 411.5,504.9 417.9,495.4 425.7,486.7 434.7,479.0 446.3,471.7 459.1,465.9 472.8,461.9 487.2,459.7 501.9,459.3 520.5,461.5 519.1,465.2 500.5,463.1 485.8,463.4 471.4,465.6 457.6,469.6 444.9,475.4 433.3,482.7 424.3,490.4 416.5,499.0 410.1,508.6 405.1,518.8 401.2,531.3" fill="url(#thm)" />
<polygon points="403.2,526.3 407.0,513.8 412.1,503.5 418.5,493.9 426.3,485.3 435.3,477.6 446.8,470.3 459.6,464.5 473.3,460.5 487.7,458.3 502.5,457.9 521.1,460.0 520.5,461.5 501.9,459.3 487.2,459.7 472.8,461.9 459.1,465.9 446.3,471.7 434.7,479.0 425.7,486.7 417.9,495.4 411.5,504.9 406.5,515.2 402.6,527.7" fill="url(#thl)" />
<polygon points="399.9,534.7 403.8,522.2 408.8,512.0 415.2,502.4 423.0,493.8 432.0,486.1 443.6,478.8 456.3,473.1 470.1,469.1 484.5,466.9 499.2,466.5 517.9,468.7 516.5,472.4 497.8,470.3 483.0,470.6 468.6,472.8 454.9,476.8 442.1,482.5 430.5,489.8 421.6,497.5 413.8,506.1 407.4,515.6 402.4,525.9 398.5,538.3" fill="url(#thm)" />
<polygon points="400.4,533.3 404.3,520.8 409.3,510.5 415.8,501.0 423.5,492.4 432.5,484.7 444.1,477.4 456.9,471.7 470.6,467.6 485.0,465.4 499.8,465.1 518.4,467.2 517.9,468.7 499.2,466.5 484.5,466.9 470.1,469.1 456.3,473.1 443.6,478.8 432.0,486.1 423.0,493.8 415.2,502.4 408.8,512.0 403.8,522.2 399.9,534.7" fill="url(#thl)" />
<polygon points="397.2,541.7 401.0,529.3 406.0,519.0 412.5,509.5 420.2,500.9 429.2,493.3 440.8,485.9 453.6,480.2 467.3,476.3 481.7,474.1 496.5,473.7 515.2,475.9 513.8,479.6 495.1,477.5 480.3,477.8 465.9,480.0 452.2,484.0 439.4,489.7 427.8,497.0 418.8,504.6 411.0,513.2 404.6,522.7 399.6,532.9 395.8,545.3" fill="url(#thm)" />
<polygon points="397.7,540.3 401.6,527.8 406.6,517.6 413.0,508.1 420.8,499.5 429.8,491.8 441.4,484.5 454.1,478.8 467.9,474.8 482.3,472.6 497.1,472.3 515.7,474.4 515.2,475.9 496.5,473.7 481.7,474.1 467.3,476.3 453.6,480.2 440.8,485.9 429.2,493.3 420.2,500.9 412.5,509.5 406.0,519.0 401.0,529.3 397.2,541.7" fill="url(#thl)" />
<polygon points="394.5,548.7 398.3,536.3 403.3,526.1 409.7,516.6 417.5,508.0 426.5,500.4 438.1,493.1 450.9,487.4 464.6,483.4 479.0,481.3 493.8,480.9 512.5,483.1 511.1,486.9 492.4,484.7 477.6,485.0 463.2,487.2 449.4,491.1 436.6,496.8 425.1,504.1 416.1,511.7 408.3,520.3 401.9,529.7 396.9,540.0 393.0,552.3" fill="url(#thm)" />
<polygon points="395.0,547.3 398.9,534.9 403.9,524.7 410.3,515.2 418.0,506.6 427.0,499.0 438.6,491.7 451.4,486.0 465.1,482.0 479.6,479.8 494.4,479.5 513.0,481.7 512.5,483.1 493.8,480.9 479.0,481.3 464.6,483.4 450.9,487.4 438.1,493.1 426.5,500.4 417.5,508.0 409.7,516.6 403.3,526.1 398.3,536.3 394.5,548.7" fill="url(#thl)" />
<polygon points="391.7,555.7 395.6,543.3 400.6,533.1 407.0,523.7 414.7,515.1 423.7,507.5 435.3,500.2 448.1,494.6 461.9,490.6 476.3,488.5 491.1,488.2 509.8,490.4 508.4,494.1 489.7,491.9 474.9,492.2 460.4,494.4 446.7,498.3 433.9,504.0 422.3,511.2 413.3,518.8 405.6,527.4 399.1,536.8 394.2,547.0 390.3,559.4" fill="url(#thm)" />
<polygon points="392.3,554.3 396.1,541.9 401.1,531.7 407.5,522.2 415.3,513.7 424.3,506.1 435.9,498.8 448.7,493.1 462.4,489.2 476.8,487.0 491.7,486.7 510.3,488.9 509.8,490.4 491.1,488.2 476.3,488.5 461.9,490.6 448.1,494.6 435.3,500.2 423.7,507.5 414.7,515.1 407.0,523.7 400.6,533.1 395.6,543.3 391.7,555.7" fill="url(#thl)" />
<polygon points="389.0,562.7 392.8,550.4 397.8,540.2 404.2,530.8 412.0,522.2 421.0,514.6 432.6,507.4 445.4,501.7 459.1,497.8 473.6,495.7 488.4,495.4 507.1,497.6 505.7,501.4 487.0,499.1 472.1,499.4 457.7,501.6 444.0,505.5 431.2,511.1 419.6,518.4 410.6,525.9 402.8,534.5 396.4,543.9 391.4,554.1 387.6,566.4" fill="url(#thm)" />
<polygon points="389.6,561.3 393.4,549.0 398.4,538.8 404.8,529.3 412.5,520.8 421.5,513.2 433.1,506.0 445.9,500.3 459.7,496.4 474.1,494.2 488.9,493.9 507.6,496.1 507.1,497.6 488.4,495.4 473.6,495.7 459.1,497.8 445.4,501.7 432.6,507.4 421.0,514.6 412.0,522.2 404.2,530.8 397.8,540.2 392.8,550.4 389.0,562.7" fill="url(#thl)" />
<polygon points="386.3,569.8 390.1,557.4 395.1,547.3 401.5,537.9 409.2,529.3 418.2,521.8 429.8,514.6 442.6,508.9 456.4,505.0 470.8,502.9 485.7,502.6 504.4,504.8 503.0,508.6 484.3,506.4 469.4,506.7 455.0,508.8 441.2,512.7 428.4,518.3 416.8,525.5 407.8,533.0 400.1,541.6 393.6,551.0 388.7,561.1 384.9,573.4" fill="url(#thm)" />
<polygon points="386.8,568.4 390.7,556.0 395.6,545.9 402.0,536.4 409.8,527.9 418.8,520.4 430.4,513.1 443.2,507.5 456.9,503.6 471.4,501.5 486.2,501.2 504.9,503.4 504.4,504.8 485.7,502.6 470.8,502.9 456.4,505.0 442.6,508.9 429.8,514.6 418.2,521.8 409.2,529.3 401.5,537.9 395.1,547.3 390.1,557.4 386.3,569.8" fill="url(#thl)" />
<polygon points="383.5,576.8 387.4,564.5 392.3,554.4 398.7,545.0 406.5,536.4 415.5,528.9 427.1,521.7 439.9,516.1 453.7,512.2 468.1,510.1 483.0,509.9 501.7,512.1 500.3,515.9 481.6,513.6 466.7,513.9 452.2,516.0 438.5,519.9 425.6,525.5 414.0,532.7 405.1,540.2 397.3,548.7 390.9,558.1 385.9,568.2 382.1,580.5" fill="url(#thm)" />
<polygon points="384.1,575.4 387.9,563.1 392.9,553.0 399.3,543.5 407.0,535.0 416.0,527.5 427.6,520.3 440.4,514.7 454.2,510.8 468.7,508.7 483.5,508.4 502.2,510.6 501.7,512.1 483.0,509.9 468.1,510.1 453.7,512.2 439.9,516.1 427.1,521.7 415.5,528.9 406.5,536.4 398.7,545.0 392.3,554.4 387.4,564.5 383.5,576.8" fill="url(#thl)" />
<polygon points="380.8,583.9 384.6,571.6 389.6,561.5 396.0,552.1 403.7,543.6 412.7,536.1 424.3,528.9 437.1,523.3 450.9,519.5 465.4,517.4 480.2,517.1 499.0,519.4 497.6,523.1 478.8,520.9 464.0,521.1 449.5,523.2 435.7,527.1 422.9,532.6 411.3,539.8 402.3,547.3 394.6,555.8 388.1,565.1 383.2,575.3 379.4,587.5" fill="url(#thm)" />
<polygon points="381.4,582.5 385.2,570.2 390.1,560.0 396.5,550.7 404.3,542.2 413.3,534.7 424.9,527.5 437.7,521.9 451.5,518.0 465.9,515.9 480.8,515.7 499.5,517.9 499.0,519.4 480.2,517.1 465.4,517.4 450.9,519.5 437.1,523.3 424.3,528.9 412.7,536.1 403.7,543.6 396.0,552.1 389.6,561.5 384.6,571.6 380.8,583.9" fill="url(#thl)" />
<polygon points="378.1,590.9 381.9,578.7 386.8,568.6 393.2,559.2 401.0,550.7 410.0,543.2 421.6,536.1 434.4,530.5 448.2,526.7 462.6,524.6 477.5,524.4 496.3,526.6 494.9,530.4 476.1,528.1 461.2,528.4 446.7,530.4 433.0,534.3 420.1,539.8 408.5,547.0 399.5,554.4 391.8,562.9 385.4,572.3 380.4,582.3 376.6,594.6" fill="url(#thm)" />
<polygon points="378.6,589.5 382.4,577.2 387.4,567.1 393.8,557.8 401.5,549.3 410.5,541.8 422.1,534.6 434.9,529.1 448.7,525.2 463.2,523.2 478.1,522.9 496.8,525.2 496.3,526.6 477.5,524.4 462.6,524.6 448.2,526.7 434.4,530.5 421.6,536.1 410.0,543.2 401.0,550.7 393.2,559.2 386.8,568.6 381.9,578.7 378.1,590.9" fill="url(#thl)" />
<polygon points="375.3,598.0 379.1,585.7 384.1,575.7 390.5,566.3 398.2,557.9 407.2,550.4 418.8,543.3 431.6,537.7 445.4,533.9 459.9,531.9 474.8,531.6 493.5,533.9 492.1,537.7 473.4,535.4 458.5,535.6 444.0,537.7 430.2,541.5 417.4,547.0 405.8,554.1 396.8,561.6 389.0,570.0 382.6,579.4 377.7,589.4 373.9,601.7" fill="url(#thm)" />
<polygon points="375.9,596.6 379.7,584.3 384.6,574.2 391.0,564.9 398.8,556.4 407.8,549.0 419.4,541.8 432.2,536.3 446.0,532.5 460.4,530.4 475.3,530.2 494.1,532.5 493.5,533.9 474.8,531.6 459.9,531.9 445.4,533.9 431.6,537.7 418.8,543.3 407.2,550.4 398.2,557.9 390.5,566.3 384.1,575.7 379.1,585.7 375.3,598.0" fill="url(#thl)" />
<polygon points="372.6,605.0 376.4,592.8 381.3,582.8 387.7,573.5 395.5,565.0 404.4,557.6 416.0,550.5 428.9,545.0 442.7,541.1 457.2,539.1 472.1,538.9 490.8,541.2 489.4,545.0 470.6,542.7 455.7,542.9 441.2,544.9 427.4,548.7 414.6,554.2 403.0,561.3 394.0,568.7 386.3,577.2 379.9,586.5 374.9,596.5 371.2,608.7" fill="url(#thm)" />
<polygon points="373.1,603.6 376.9,591.4 381.9,581.3 388.3,572.0 396.0,563.6 405.0,556.2 416.6,549.0 429.4,543.5 443.2,539.7 457.7,537.7 472.6,537.4 491.4,539.7 490.8,541.2 472.1,538.9 457.2,539.1 442.7,541.1 428.9,545.0 416.0,550.5 404.4,557.6 395.5,565.0 387.7,573.5 381.3,582.8 376.4,592.8 372.6,605.0" fill="url(#thl)" />
<polygon points="369.8,612.1 373.6,599.9 378.6,589.9 384.9,580.6 392.7,572.2 401.7,564.8 413.3,557.7 426.1,552.2 439.9,548.4 454.4,546.4 469.3,546.2 488.1,548.5 486.7,552.3 467.9,550.0 453.0,550.2 438.5,552.2 424.7,555.9 411.8,561.4 400.2,568.5 391.2,575.9 383.5,584.3 377.1,593.6 372.2,603.6 368.4,615.8" fill="url(#thm)" />
<polygon points="370.4,610.7 374.2,598.5 379.1,588.5 385.5,579.2 393.2,570.7 402.2,563.3 413.8,556.2 426.7,550.7 440.5,546.9 455.0,544.9 469.9,544.7 488.7,547.0 488.1,548.5 469.3,546.2 454.4,546.4 439.9,548.4 426.1,552.2 413.3,557.7 401.7,564.8 392.7,572.2 384.9,580.6 378.6,589.9 373.6,599.9 369.8,612.1" fill="url(#thl)" />
<polygon points="367.1,619.2 370.9,607.0 375.8,597.0 382.2,587.7 389.9,579.3 398.9,572.0 410.5,564.9 423.4,559.4 437.2,555.6 451.7,553.6 466.6,553.5 485.4,555.8 484.0,559.6 465.2,557.3 450.2,557.4 435.7,559.4 421.9,563.2 409.1,568.6 397.5,575.7 388.5,583.1 380.7,591.5 374.4,600.7 369.4,610.7 365.7,622.9" fill="url(#thm)" />
<polygon points="367.6,617.8 371.4,605.6 376.3,595.6 382.7,586.3 390.5,577.9 399.5,570.5 411.1,563.4 423.9,558.0 437.7,554.2 452.2,552.2 467.1,552.0 485.9,554.3 485.4,555.8 466.6,553.5 451.7,553.6 437.2,555.6 423.4,559.4 410.5,564.9 398.9,572.0 389.9,579.3 382.2,587.7 375.8,597.0 370.9,607.0 367.1,619.2" fill="url(#thl)" />
<polygon points="364.3,626.3 368.1,614.1 373.0,604.1 379.4,594.9 387.1,586.5 396.1,579.1 407.7,572.1 420.6,566.6 434.4,562.9 448.9,560.9 463.9,560.8 482.7,563.1 481.3,566.9 462.4,564.5 447.5,564.7 433.0,566.7 419.1,570.4 406.3,575.9 394.7,582.9 385.7,590.2 378.0,598.6 371.6,607.9 366.7,617.8 362.9,630.0" fill="url(#thm)" />
<polygon points="364.9,624.9 368.7,612.7 373.6,602.7 380.0,593.5 387.7,585.1 396.7,577.7 408.3,570.7 421.1,565.2 435.0,561.4 449.5,559.5 464.4,559.3 483.2,561.6 482.7,563.1 463.9,560.8 448.9,560.9 434.4,562.9 420.6,566.6 407.7,572.1 396.1,579.1 387.1,586.5 379.4,594.9 373.0,604.1 368.1,614.1 364.3,626.3" fill="url(#thl)" />
<polygon points="361.6,633.4 365.3,621.3 370.3,611.3 376.6,602.0 384.4,593.7 393.4,586.3 405.0,579.3 417.8,573.9 431.6,570.2 446.2,568.2 461.1,568.0 480.0,570.4 478.5,574.2 459.7,571.8 444.7,572.0 430.2,573.9 416.4,577.7 403.5,583.1 391.9,590.1 382.9,597.4 375.2,605.8 368.8,615.0 363.9,625.0 360.2,637.1" fill="url(#thm)" />
<polygon points="362.1,632.0 365.9,619.8 370.8,609.8 377.2,600.6 384.9,592.3 393.9,584.9 405.5,577.9 418.4,572.4 432.2,568.7 446.7,566.7 461.7,566.6 480.5,568.9 480.0,570.4 461.1,568.0 446.2,568.2 431.6,570.2 417.8,573.9 405.0,579.3 393.4,586.3 384.4,593.7 376.6,602.0 370.3,611.3 365.3,621.3 361.6,633.4" fill="url(#thl)" />
<polygon points="358.8,640.5 362.6,628.4 367.5,618.4 373.9,609.2 381.6,600.9 390.6,593.6 402.2,586.6 415.0,581.1 428.9,577.4 443.4,575.5 458.4,575.4 477.2,577.7 475.8,581.5 456.9,579.2 442.0,579.3 427.4,581.2 413.6,584.9 400.8,590.3 389.1,597.3 380.2,604.6 372.4,612.9 366.0,622.1 361.1,632.1 357.4,644.2" fill="url(#thm)" />
<polygon points="359.4,639.0 363.1,626.9 368.0,617.0 374.4,607.8 382.2,599.4 391.1,592.1 402.8,585.1 415.6,579.7 429.4,576.0 444.0,574.0 458.9,573.9 477.8,576.3 477.2,577.7 458.4,575.4 443.4,575.5 428.9,577.4 415.0,581.1 402.2,586.6 390.6,593.6 381.6,600.9 373.9,609.2 367.5,618.4 362.6,628.4 358.8,640.5" fill="url(#thl)" />
<polygon points="356.1,647.6 359.8,635.5 364.7,625.6 371.1,616.4 378.8,608.1 387.8,600.8 399.4,593.8 412.3,588.4 426.1,584.7 440.7,582.8 455.6,582.7 474.5,585.1 473.1,588.9 454.2,586.5 439.2,586.6 424.7,588.5 410.8,592.2 398.0,597.6 386.4,604.5 377.4,611.8 369.6,620.1 363.3,629.3 358.4,639.2 354.6,651.3" fill="url(#thm)" />
<polygon points="356.6,646.1 360.4,634.1 365.3,624.1 371.6,614.9 379.4,606.6 388.4,599.3 400.0,592.3 412.8,587.0 426.7,583.3 441.2,581.3 456.2,581.2 475.0,583.6 474.5,585.1 455.6,582.7 440.7,582.8 426.1,584.7 412.3,588.4 399.4,593.8 387.8,600.8 378.8,608.1 371.1,616.4 364.7,625.6 359.8,635.5 356.1,647.6" fill="url(#thl)" />
<polygon points="353.3,654.7 357.0,642.6 361.9,632.7 368.3,623.6 376.0,615.3 385.0,608.0 396.6,601.0 409.5,595.7 423.3,592.0 437.9,590.1 452.9,590.0 471.8,592.4 470.3,596.2 451.4,593.8 436.5,593.9 421.9,595.8 408.1,599.5 395.2,604.8 383.6,611.7 374.6,619.0 366.9,627.3 360.5,636.4 355.6,646.3 351.9,658.4" fill="url(#thm)" />
<polygon points="353.9,653.3 357.6,641.2 362.5,631.3 368.9,622.1 376.6,613.8 385.6,606.5 397.2,599.6 410.1,594.2 423.9,590.5 438.4,588.6 453.4,588.5 472.3,590.9 471.8,592.4 452.9,590.0 437.9,590.1 423.3,592.0 409.5,595.7 396.6,601.0 385.0,608.0 376.0,615.3 368.3,623.6 361.9,632.7 357.0,642.6 353.3,654.7" fill="url(#thl)" />
<polygon points="350.6,661.8 354.3,649.8 359.2,639.9 365.5,630.7 373.3,622.5 382.2,615.2 393.9,608.3 406.7,602.9 420.6,599.3 435.1,597.4 450.1,597.3 469.0,599.7 467.6,603.5 448.7,601.1 433.7,601.2 419.1,603.1 405.3,606.7 392.4,612.1 380.8,619.0 371.8,626.2 364.1,634.5 357.7,643.6 352.8,653.5 349.1,665.5" fill="url(#thm)" />
<polygon points="351.1,660.4 354.8,648.3 359.7,638.5 366.1,629.3 373.8,621.0 382.8,613.8 394.4,606.8 407.3,601.5 421.1,597.8 435.7,595.9 450.7,595.8 469.6,598.3 469.0,599.7 450.1,597.3 435.1,597.4 420.6,599.3 406.7,602.9 393.9,608.3 382.2,615.2 373.3,622.5 365.5,630.7 359.2,639.9 354.3,649.8 350.6,661.8" fill="url(#thl)" />
<polygon points="347.8,668.9 351.5,656.9 356.4,647.1 362.7,637.9 370.5,629.7 379.4,622.4 391.1,615.5 403.9,610.2 417.8,606.6 432.4,604.7 447.4,604.6 466.3,607.1 464.9,610.9 445.9,608.5 430.9,608.5 416.4,610.4 402.5,614.0 389.6,619.3 378.0,626.2 369.0,633.4 361.3,641.7 354.9,650.8 350.1,660.6 346.4,672.6" fill="url(#thm)" />
<polygon points="348.4,667.5 352.1,655.5 356.9,645.6 363.3,636.5 371.0,628.2 380.0,621.0 391.6,614.1 404.5,608.8 418.4,605.1 432.9,603.3 447.9,603.2 466.8,605.6 466.3,607.1 447.4,604.6 432.4,604.7 417.8,606.6 403.9,610.2 391.1,615.5 379.4,622.4 370.5,629.7 362.7,637.9 356.4,647.1 351.5,656.9 347.8,668.9" fill="url(#thl)" />
<polygon points="345.0,676.0 348.7,664.1 353.6,654.2 360.0,645.1 367.7,636.9 376.7,629.7 388.3,622.8 401.2,617.5 415.0,613.9 429.6,612.0 444.6,612.0 463.6,614.4 462.1,618.3 443.2,615.8 428.2,615.9 413.6,617.7 399.7,621.3 386.8,626.6 375.2,633.5 366.2,640.7 358.5,648.9 352.2,658.0 347.3,667.8 343.6,679.8" fill="url(#thm)" />
<polygon points="345.6,674.6 349.3,662.6 354.2,652.8 360.5,643.7 368.2,635.5 377.2,628.2 388.8,621.4 401.7,616.1 415.6,612.4 430.2,610.6 445.2,610.5 464.1,613.0 463.6,614.4 444.6,612.0 429.6,612.0 415.0,613.9 401.2,617.5 388.3,622.8 376.7,629.7 367.7,636.9 360.0,645.1 353.6,654.2 348.7,664.1 345.0,676.0" fill="url(#thl)" />
<polygon points="342.3,683.2 345.9,671.2 350.8,661.4 357.2,652.3 364.9,644.1 373.9,636.9 385.5,630.1 398.4,624.8 412.2,621.2 426.8,619.4 441.9,619.3 460.8,621.8 459.4,625.6 440.4,623.2 425.4,623.2 410.8,625.0 396.9,628.6 384.0,633.9 372.4,640.7 363.4,647.9 355.7,656.1 349.4,665.1 344.5,675.0 340.8,686.9" fill="url(#thm)" />
<polygon points="342.8,681.8 346.5,669.8 351.4,660.0 357.7,650.9 365.4,642.7 374.4,635.5 386.1,628.6 398.9,623.3 412.8,619.7 427.4,617.9 442.4,617.9 461.4,620.3 460.8,621.8 441.9,619.3 426.8,619.4 412.2,621.2 398.4,624.8 385.5,630.1 373.9,636.9 364.9,644.1 357.2,652.3 350.8,661.4 345.9,671.2 342.3,683.2" fill="url(#thl)" />
<polygon points="339.5,690.3 343.2,678.4 348.0,668.6 354.4,659.5 362.1,651.4 371.1,644.2 382.7,637.4 395.6,632.1 409.5,628.5 424.1,626.7 439.1,626.7 458.1,629.2 456.6,633.0 437.7,630.5 422.6,630.5 408.0,632.3 394.1,635.9 381.3,641.1 369.6,648.0 360.6,655.1 352.9,663.3 346.6,672.3 341.7,682.1 338.1,694.0" fill="url(#thm)" />
<polygon points="340.0,688.9 343.7,677.0 348.6,667.2 354.9,658.1 362.7,649.9 371.6,642.7 383.3,635.9 396.1,630.6 410.0,627.1 424.6,625.2 439.7,625.2 458.6,627.7 458.1,629.2 439.1,626.7 424.1,626.7 409.5,628.5 395.6,632.1 382.7,637.4 371.1,644.2 362.1,651.4 354.4,659.5 348.0,668.6 343.2,678.4 339.5,690.3" fill="url(#thl)" />
<polygon points="336.7,697.5 340.4,685.6 345.2,675.8 351.6,666.8 359.3,658.6 368.3,651.4 379.9,644.6 392.8,639.4 406.7,635.9 421.3,634.1 436.3,634.0 455.3,636.5 453.9,640.4 434.9,637.9 419.8,637.9 405.2,639.7 391.3,643.2 378.5,648.4 366.8,655.2 357.8,662.4 350.1,670.5 343.8,679.5 338.9,689.3 335.3,701.2" fill="url(#thm)" />
<polygon points="337.3,696.0 340.9,684.1 345.8,674.3 352.1,665.3 359.9,657.2 368.8,650.0 380.5,643.2 393.4,637.9 407.2,634.4 421.8,632.6 436.9,632.6 455.9,635.1 455.3,636.5 436.3,634.0 421.3,634.1 406.7,635.9 392.8,639.4 379.9,644.6 368.3,651.4 359.3,658.6 351.6,666.8 345.2,675.8 340.4,685.6 336.7,697.5" fill="url(#thl)" />
<polygon points="333.9,704.6 337.6,692.7 342.5,683.0 348.8,674.0 356.5,665.8 365.5,658.7 377.1,651.9 390.0,646.7 403.9,643.2 418.5,641.4 433.6,641.4 452.6,643.9 451.1,647.8 432.1,645.2 417.1,645.2 402.4,647.0 388.5,650.5 375.7,655.7 364.0,662.5 355.0,669.6 347.3,677.7 341.0,686.7 336.1,696.5 332.5,708.3" fill="url(#thm)" />
<polygon points="334.5,703.2 338.2,691.3 343.0,681.5 349.3,672.5 357.1,664.4 366.0,657.3 377.7,650.5 390.6,645.3 404.4,641.7 419.1,639.9 434.1,639.9 453.1,642.4 452.6,643.9 433.6,641.4 418.5,641.4 403.9,643.2 390.0,646.7 377.1,651.9 365.5,658.7 356.5,665.8 348.8,674.0 342.5,683.0 337.6,692.7 333.9,704.6" fill="url(#thl)" />
<polygon points="331.2,711.8 334.8,699.9 339.7,690.2 346.0,681.2 353.7,673.1 362.7,666.0 374.3,659.2 387.2,654.0 401.1,650.5 415.7,648.8 430.8,648.8 449.8,651.3 448.4,655.2 429.4,652.6 414.3,652.6 399.6,654.4 385.7,657.9 372.9,663.0 361.2,669.8 352.2,676.9 344.5,685.0 338.2,693.9 333.4,703.7 329.7,715.5" fill="url(#thm)" />
<polygon points="331.7,710.3 335.4,698.5 340.2,688.8 346.5,679.8 354.3,671.6 363.2,664.5 374.9,657.8 387.8,652.6 401.7,649.1 416.3,647.3 431.4,647.3 450.4,649.8 449.8,651.3 430.8,648.8 415.7,648.8 401.1,650.5 387.2,654.0 374.3,659.2 362.7,666.0 353.7,673.1 346.0,681.2 339.7,690.2 334.8,699.9 331.2,711.8" fill="url(#thl)" />
<polygon points="328.4,718.9 332.0,707.1 336.9,697.4 343.2,688.4 350.9,680.4 359.9,673.3 371.5,666.5 384.4,661.4 398.3,657.9 412.9,656.1 428.0,656.2 447.1,658.7 445.6,662.6 426.6,660.0 411.5,660.0 396.9,661.7 382.9,665.2 370.0,670.3 358.4,677.1 349.4,684.1 341.7,692.2 335.4,701.2 330.6,710.9 326.9,722.7" fill="url(#thm)" />
<polygon points="328.9,717.5 332.6,705.7 337.4,696.0 343.7,687.0 351.5,678.9 360.4,671.8 372.1,665.1 385.0,659.9 398.9,656.4 413.5,654.7 428.6,654.7 447.6,657.2 447.1,658.7 428.0,656.2 412.9,656.1 398.3,657.9 384.4,661.4 371.5,666.5 359.9,673.3 350.9,680.4 343.2,688.4 336.9,697.4 332.0,707.1 328.4,718.9" fill="url(#thl)" />
<polygon points="325.6,726.1 329.2,714.3 334.1,704.6 340.4,695.7 348.1,687.6 357.1,680.6 368.7,673.8 381.6,668.7 395.5,665.2 410.2,663.5 425.3,663.6 444.3,666.1 442.9,670.0 423.8,667.4 408.7,667.3 394.1,669.1 380.1,672.5 367.2,677.6 355.6,684.4 346.6,691.4 338.9,699.5 332.6,708.4 327.8,718.1 324.2,729.8" fill="url(#thm)" />
<polygon points="326.2,724.7 329.8,712.9 334.6,703.2 340.9,694.2 348.6,686.2 357.6,679.1 369.3,672.4 382.2,667.2 396.1,663.8 410.7,662.0 425.8,662.1 444.9,664.6 444.3,666.1 425.3,663.6 410.2,663.5 395.5,665.2 381.6,668.7 368.7,673.8 357.1,680.6 348.1,687.6 340.4,695.7 334.1,704.6 329.2,714.3 325.6,726.1" fill="url(#thl)" />
<polygon points="322.8,733.3 326.4,721.5 331.3,711.9 337.6,702.9 345.3,694.9 354.2,687.9 365.9,681.2 378.8,676.0 392.7,672.6 407.4,670.9 422.5,671.0 441.6,673.5 440.1,677.4 421.0,674.8 405.9,674.7 391.3,676.4 377.3,679.9 364.4,685.0 352.8,691.6 343.8,698.7 336.1,706.7 329.8,715.6 325.0,725.3 321.4,737.0" fill="url(#thm)" />
<polygon points="323.4,731.9 327.0,720.1 331.8,710.4 338.1,701.5 345.8,693.4 354.8,686.4 366.5,679.7 379.4,674.6 393.3,671.1 407.9,669.4 423.0,669.5 442.1,672.0 441.6,673.5 422.5,671.0 407.4,670.9 392.7,672.6 378.8,676.0 365.9,681.2 354.2,687.9 345.3,694.9 337.6,702.9 331.3,711.9 326.4,721.5 322.8,733.3" fill="url(#thl)" />
<polygon points="320.0,740.5 323.6,728.7 328.5,719.1 334.8,710.2 342.5,702.2 351.4,695.2 363.1,688.5 376.0,683.4 389.9,680.0 404.6,678.3 419.7,678.4 438.8,680.9 437.3,684.8 418.2,682.2 403.1,682.1 388.5,683.8 374.5,687.2 361.6,692.3 350.0,699.0 341.0,706.0 333.3,714.0 327.0,722.8 322.2,732.5 318.6,744.2" fill="url(#thm)" />
<polygon points="320.6,739.0 324.2,727.3 329.0,717.6 335.3,708.7 343.0,700.7 352.0,693.7 363.6,687.0 376.6,681.9 390.5,678.5 405.1,676.8 420.3,676.9 439.3,679.5 438.8,680.9 419.7,678.4 404.6,678.3 389.9,680.0 376.0,683.4 363.1,688.5 351.4,695.2 342.5,702.2 334.8,710.2 328.5,719.1 323.6,728.7 320.0,740.5" fill="url(#thl)" />
<polygon points="317.2,747.7 320.8,735.9 325.6,726.3 332.0,717.4 339.6,709.5 348.6,702.5 360.3,695.8 373.2,690.7 387.1,687.3 401.8,685.7 416.9,685.8 436.0,688.4 434.6,692.2 415.5,689.6 400.3,689.5 385.7,691.2 371.7,694.6 358.8,699.6 347.2,706.3 338.2,713.2 330.5,721.2 324.2,730.1 319.4,739.7 315.8,751.4" fill="url(#thm)" />
<polygon points="317.8,746.2 321.4,734.5 326.2,724.9 332.5,716.0 340.2,708.0 349.2,701.0 360.8,694.4 373.7,689.3 387.7,685.9 402.3,684.2 417.5,684.3 436.6,686.9 436.0,688.4 416.9,685.8 401.8,685.7 387.1,687.3 373.2,690.7 360.3,695.8 348.6,702.5 339.6,709.5 332.0,717.4 325.6,726.3 320.8,735.9 317.2,747.7" fill="url(#thl)" />
<polygon points="314.4,754.9 318.0,743.2 322.8,733.6 329.1,724.7 336.8,716.7 345.8,709.8 357.5,703.2 370.4,698.1 384.3,694.7 399.0,693.1 414.1,693.2 433.3,695.8 431.8,699.7 412.7,697.0 397.5,696.9 382.8,698.6 368.9,701.9 356.0,707.0 344.3,713.6 335.4,720.5 327.7,728.5 321.4,737.3 316.6,746.9 313.0,758.6" fill="url(#thm)" />
<polygon points="315.0,753.4 318.6,741.7 323.4,732.1 329.7,723.3 337.4,715.3 346.4,708.3 358.0,701.7 370.9,696.6 384.9,693.3 399.5,691.6 414.7,691.7 433.8,694.3 433.3,695.8 414.1,693.2 399.0,693.1 384.3,694.7 370.4,698.1 357.5,703.2 345.8,709.8 336.8,716.7 329.1,724.7 322.8,733.6 318.0,743.2 314.4,754.9" fill="url(#thl)" />
<polygon points="311.6,762.1 315.2,750.4 320.0,740.8 326.3,732.0 334.0,724.0 343.0,717.1 354.6,710.5 367.6,705.5 381.5,702.1 396.2,700.5 411.3,700.6 430.5,703.2 429.0,707.1 409.9,704.5 394.7,704.3 380.0,706.0 366.1,709.3 353.2,714.3 341.5,720.9 332.5,727.8 324.9,735.8 318.6,744.6 313.8,754.2 310.2,765.8" fill="url(#thm)" />
<polygon points="312.2,760.6 315.8,748.9 320.6,739.4 326.9,730.5 334.6,722.6 343.5,715.6 355.2,709.0 368.1,704.0 382.1,700.6 396.7,699.0 411.9,699.1 431.0,701.8 430.5,703.2 411.3,700.6 396.2,700.5 381.5,702.1 367.6,705.5 354.6,710.5 343.0,717.1 334.0,724.0 326.3,732.0 320.0,740.8 315.2,750.4 311.6,762.1" fill="url(#thl)" />
<polygon points="308.8,769.3 312.4,757.6 317.2,748.1 323.5,739.3 331.2,731.3 340.2,724.4 351.8,717.9 364.7,712.9 378.7,709.5 393.4,707.9 408.5,708.0 427.7,710.7 426.3,714.6 407.1,711.9 391.9,711.8 377.2,713.4 363.3,716.7 350.3,721.7 338.7,728.2 329.7,735.2 322.0,743.1 315.7,751.9 311.0,761.4 307.4,773.0" fill="url(#thm)" />
<polygon points="309.4,767.8 313.0,756.2 317.8,746.6 324.1,737.8 331.8,729.9 340.7,723.0 352.4,716.4 365.3,711.4 379.2,708.0 393.9,706.4 409.1,706.6 428.3,709.2 427.7,710.7 408.5,708.0 393.4,707.9 378.7,709.5 364.7,712.9 351.8,717.9 340.2,724.4 331.2,731.3 323.5,739.3 317.2,748.1 312.4,757.6 308.8,769.3" fill="url(#thl)" />
<polygon points="306.0,776.5 309.6,764.9 314.4,755.3 320.7,746.6 328.4,738.7 337.3,731.8 349.0,725.2 361.9,720.2 375.9,716.9 390.6,715.3 405.8,715.5 424.9,718.1 423.5,722.0 404.3,719.4 389.1,719.2 374.4,720.8 360.4,724.1 347.5,729.0 335.9,735.6 326.9,742.5 319.2,750.4 312.9,759.1 308.1,768.6 304.6,780.2" fill="url(#thm)" />
<polygon points="306.6,775.0 310.2,763.4 315.0,753.9 321.2,745.1 328.9,737.2 337.9,730.3 349.6,723.7 362.5,718.8 376.4,715.4 391.1,713.8 406.3,714.0 425.5,716.7 424.9,718.1 405.8,715.5 390.6,715.3 375.9,716.9 361.9,720.2 349.0,725.2 337.3,731.8 328.4,738.7 320.7,746.6 314.4,755.3 309.6,764.9 306.0,776.5" fill="url(#thl)" />
<polygon points="303.2,783.7 306.8,772.1 311.6,762.6 317.9,753.9 325.5,746.0 334.5,739.1 346.2,732.6 359.1,727.6 373.1,724.3 387.8,722.8 403.0,722.9 422.2,725.6 420.7,729.5 401.5,726.8 386.3,726.6 371.6,728.2 357.6,731.5 344.7,736.4 333.0,742.9 324.1,749.8 316.4,757.7 310.1,766.4 305.3,775.9 301.8,787.5" fill="url(#thm)" />
<polygon points="303.8,782.3 307.4,770.7 312.1,761.2 318.4,752.4 326.1,744.5 335.1,737.6 346.7,731.1 359.7,726.1 373.6,722.8 388.3,721.3 403.5,721.4 422.7,724.1 422.2,725.6 403.0,722.9 387.8,722.8 373.1,724.3 359.1,727.6 346.2,732.6 334.5,739.1 325.5,746.0 317.9,753.9 311.6,762.6 306.8,772.1 303.2,783.7" fill="url(#thl)" />
<polygon points="300.4,790.9 304.0,779.4 308.8,769.9 315.0,761.2 322.7,753.3 331.7,746.4 343.3,740.0 356.3,735.0 370.2,731.7 385.0,730.2 400.2,730.4 419.4,733.1 417.9,737.0 398.7,734.3 383.5,734.1 368.8,735.6 354.8,738.9 341.9,743.8 330.2,750.3 321.2,757.1 313.6,765.0 307.3,773.7 302.5,783.1 299.0,794.7" fill="url(#thm)" />
<polygon points="301.0,789.5 304.5,777.9 309.3,768.4 315.6,759.7 323.3,751.8 332.2,745.0 343.9,738.5 356.8,733.5 370.8,730.3 385.5,728.7 400.7,728.9 419.9,731.6 419.4,733.1 400.2,730.4 385.0,730.2 370.2,731.7 356.3,735.0 343.3,740.0 331.7,746.4 322.7,753.3 315.0,761.2 308.8,769.9 304.0,779.4 300.4,790.9" fill="url(#thl)" />
<polygon points="297.6,798.2 301.2,786.6 305.9,777.2 312.2,768.5 319.9,760.6 328.8,753.8 340.5,747.3 353.4,742.4 367.4,739.2 382.1,737.6 397.4,737.8 416.6,740.5 415.1,744.4 395.9,741.7 380.7,741.5 365.9,743.0 352.0,746.3 339.0,751.2 327.4,757.6 318.4,764.5 310.7,772.3 304.5,781.0 299.7,790.4 296.2,801.9" fill="url(#thm)" />
<polygon points="298.2,796.7 301.7,785.2 306.5,775.7 312.8,767.0 320.4,759.2 329.4,752.3 341.1,745.9 354.0,740.9 368.0,737.7 382.7,736.1 397.9,736.4 417.1,739.1 416.6,740.5 397.4,737.8 382.1,737.6 367.4,739.2 353.4,742.4 340.5,747.3 328.8,753.8 319.9,760.6 312.2,768.5 305.9,777.2 301.2,786.6 297.6,798.2" fill="url(#thl)" />
<polygon points="294.8,805.4 298.3,793.9 303.1,784.5 309.4,775.8 317.0,768.0 326.0,761.2 337.7,754.7 350.6,749.8 364.6,746.6 379.3,745.1 394.6,745.3 413.8,748.0 412.3,751.9 393.1,749.2 377.9,749.0 363.1,750.5 349.1,753.7 336.2,758.6 324.5,765.0 315.6,771.8 307.9,779.6 301.6,788.3 296.9,797.7 293.4,809.2" fill="url(#thm)" />
<polygon points="295.4,804.0 298.9,792.4 303.7,783.0 309.9,774.3 317.6,766.5 326.6,759.7 338.2,753.2 351.2,748.4 365.2,745.1 379.9,743.6 395.1,743.8 414.4,746.5 413.8,748.0 394.6,745.3 379.3,745.1 364.6,746.6 350.6,749.8 337.7,754.7 326.0,761.2 317.0,768.0 309.4,775.8 303.1,784.5 298.3,793.9 294.8,805.4" fill="url(#thl)" />
<polygon points="292.0,812.7 295.5,801.2 300.3,791.8 306.5,783.1 314.2,775.3 323.2,768.5 334.8,762.1 347.8,757.3 361.8,754.0 376.5,752.5 391.7,752.8 411.0,755.5 409.6,759.4 390.3,756.7 375.1,756.4 360.3,757.9 346.3,761.1 333.3,766.0 321.7,772.4 312.7,779.1 305.1,786.9 298.8,795.6 294.0,805.0 290.5,816.4" fill="url(#thm)" />
<polygon points="292.6,811.2 296.1,799.7 300.8,790.3 307.1,781.6 314.8,773.8 323.7,767.1 335.4,760.6 348.3,755.8 362.3,752.6 377.1,751.1 392.3,751.3 411.6,754.0 411.0,755.5 391.7,752.8 376.5,752.5 361.8,754.0 347.8,757.3 334.8,762.1 323.2,768.5 314.2,775.3 306.5,783.1 300.3,791.8 295.5,801.2 292.0,812.7" fill="url(#thl)" />
<polygon points="289.2,819.9 292.7,808.4 297.4,799.1 303.7,790.4 311.4,782.7 320.3,775.9 332.0,769.5 344.9,764.7 358.9,761.5 373.7,760.0 388.9,760.3 408.2,763.0 406.8,766.9 387.5,764.2 372.2,763.9 357.5,765.4 343.5,768.5 330.5,773.4 318.8,779.7 309.9,786.5 302.2,794.2 296.0,802.9 291.2,812.2 287.7,823.7" fill="url(#thm)" />
<polygon points="289.8,818.5 293.3,807.0 298.0,797.6 304.3,789.0 311.9,781.2 320.9,774.4 332.6,768.0 345.5,763.2 359.5,760.0 374.3,758.5 389.5,758.8 408.8,761.5 408.2,763.0 388.9,760.3 373.7,760.0 358.9,761.5 344.9,764.7 332.0,769.5 320.3,775.9 311.4,782.7 303.7,790.4 297.4,799.1 292.7,808.4 289.2,819.9" fill="url(#thl)" />
<polygon points="286.4,827.2 289.9,815.7 294.6,806.4 300.9,797.8 308.5,790.0 317.5,783.3 329.1,776.9 342.1,772.1 356.1,768.9 370.9,767.5 386.1,767.8 405.4,770.5 404.0,774.4 384.7,771.7 369.4,771.4 354.6,772.8 340.6,776.0 327.7,780.8 316.0,787.1 307.0,793.9 299.4,801.6 293.1,810.2 288.4,819.5 284.9,830.9" fill="url(#thm)" />
<polygon points="286.9,825.7 290.4,814.3 295.2,804.9 301.4,796.3 309.1,788.6 318.0,781.8 329.7,775.4 342.7,770.6 356.7,767.5 371.4,766.0 386.7,766.3 406.0,769.0 405.4,770.5 386.1,767.8 370.9,767.5 356.1,768.9 342.1,772.1 329.1,776.9 317.5,783.3 308.5,790.0 300.9,797.8 294.6,806.4 289.9,815.7 286.4,827.2" fill="url(#thl)" />
<polygon points="283.6,834.4 287.0,823.0 291.8,813.7 298.0,805.1 305.7,797.4 314.6,790.7 326.3,784.3 339.3,779.6 353.3,776.4 368.0,775.0 383.3,775.3 402.6,778.0 401.2,781.9 381.8,779.2 366.6,778.9 351.8,780.3 337.8,783.4 324.8,788.2 313.2,794.5 304.2,801.2 296.5,808.9 290.3,817.5 285.6,826.8 282.1,838.2" fill="url(#thm)" />
<polygon points="284.1,833.0 287.6,821.6 292.3,812.2 298.6,803.6 306.2,795.9 315.2,789.2 326.9,782.9 339.8,778.1 353.8,774.9 368.6,773.5 383.9,773.8 403.2,776.5 402.6,778.0 383.3,775.3 368.0,775.0 353.3,776.4 339.3,779.6 326.3,784.3 314.6,790.7 305.7,797.4 298.0,805.1 291.8,813.7 287.0,823.0 283.6,834.4" fill="url(#thl)" />
<polygon points="280.7,841.7 284.2,830.3 288.9,821.0 295.2,812.5 302.8,804.8 311.8,798.1 323.4,791.8 336.4,787.0 350.4,783.9 365.2,782.5 380.5,782.8 399.8,785.6 398.4,789.5 379.0,786.7 363.7,786.3 349.0,787.8 334.9,790.9 322.0,795.6 310.3,801.9 301.3,808.6 293.7,816.3 287.5,824.8 282.7,834.1 279.3,845.5" fill="url(#thm)" />
<polygon points="281.3,840.3 284.8,828.9 289.5,819.6 295.7,811.0 303.4,803.3 312.4,796.6 324.0,790.3 337.0,785.5 351.0,782.4 365.8,781.0 381.1,781.3 400.4,784.1 399.8,785.6 380.5,782.8 365.2,782.5 350.4,783.9 336.4,787.0 323.4,791.8 311.8,798.1 302.8,804.8 295.2,812.5 288.9,821.0 284.2,830.3 280.7,841.7" fill="url(#thl)" />
<polygon points="277.9,849.0 281.4,837.6 286.1,828.3 292.3,819.8 300.0,812.1 308.9,805.5 320.6,799.2 333.6,794.5 347.6,791.3 362.4,789.9 377.7,790.3 397.0,793.1 395.6,797.0 376.2,794.2 360.9,793.8 346.1,795.2 332.1,798.3 319.1,803.1 307.4,809.3 298.5,816.0 290.8,823.6 284.6,832.2 279.9,841.4 276.4,852.8" fill="url(#thm)" />
<polygon points="278.5,847.5 281.9,836.2 286.7,826.9 292.9,818.3 300.5,810.7 309.5,804.0 321.2,797.7 334.1,793.0 348.2,789.9 363.0,788.4 378.2,788.8 397.6,791.6 397.0,793.1 377.7,790.3 362.4,789.9 347.6,791.3 333.6,794.5 320.6,799.2 308.9,805.5 300.0,812.1 292.3,819.8 286.1,828.3 281.4,837.6 277.9,849.0" fill="url(#thl)" />
<polygon points="275.1,856.3 278.5,844.9 283.2,835.7 289.5,827.2 297.1,819.5 306.1,812.9 317.7,806.6 330.7,801.9 344.7,798.8 359.6,797.4 374.9,797.8 394.2,800.6 392.8,804.5 373.4,801.7 358.1,801.4 343.3,802.7 329.2,805.8 316.3,810.5 304.6,816.7 295.6,823.4 288.0,831.0 281.8,839.5 277.0,848.8 273.6,860.1" fill="url(#thm)" />
<polygon points="275.6,854.8 279.1,843.5 283.8,834.2 290.0,825.7 297.7,818.1 306.6,811.4 318.3,805.1 331.3,800.4 345.3,797.3 360.1,795.9 375.4,796.3 394.8,799.1 394.2,800.6 374.9,797.8 359.6,797.4 344.7,798.8 330.7,801.9 317.7,806.6 306.1,812.9 297.1,819.5 289.5,827.2 283.2,835.7 278.5,844.9 275.1,856.3" fill="url(#thl)" />
<polygon points="272.3,863.6 275.7,852.3 280.4,843.0 286.6,834.5 294.3,826.9 303.2,820.3 314.9,814.1 327.9,809.4 341.9,806.3 356.7,805.0 372.0,805.3 391.4,808.2 389.9,812.1 370.6,809.2 355.2,808.9 340.4,810.2 326.4,813.3 313.4,817.9 301.7,824.2 292.8,830.8 285.1,838.4 278.9,846.8 274.2,856.1 270.8,867.4" fill="url(#thm)" />
<polygon points="272.8,862.1 276.3,850.8 281.0,841.6 287.2,833.1 294.8,825.4 303.8,818.8 315.5,812.6 328.4,807.9 342.5,804.8 357.3,803.5 372.6,803.8 392.0,806.7 391.4,808.2 372.0,805.3 356.7,805.0 341.9,806.3 327.9,809.4 314.9,814.1 303.2,820.3 294.3,826.9 286.6,834.5 280.4,843.0 275.7,852.3 272.3,863.6" fill="url(#thl)" />
<polygon points="269.4,870.9 272.8,859.6 277.5,850.4 283.8,841.9 291.4,834.3 300.4,827.7 312.0,821.5 325.0,816.9 339.1,813.8 353.9,812.5 369.2,812.8 388.6,815.7 387.1,819.6 367.7,816.8 352.4,816.4 337.6,817.7 323.5,820.7 310.5,825.4 298.9,831.6 289.9,838.2 282.3,845.7 276.1,854.2 271.4,863.4 267.9,874.7" fill="url(#thm)" />
<polygon points="270.0,869.4 273.4,858.1 278.1,848.9 284.3,840.4 292.0,832.8 300.9,826.2 312.6,820.0 325.6,815.4 339.6,812.3 354.4,811.0 369.8,811.3 389.2,814.2 388.6,815.7 369.2,812.8 353.9,812.5 339.1,813.8 325.0,816.9 312.0,821.5 300.4,827.7 291.4,834.3 283.8,841.9 277.5,850.4 272.8,859.6 269.4,870.9" fill="url(#thl)" />
<polygon points="266.6,878.2 270.0,866.9 274.7,857.7 280.9,849.3 288.5,841.7 297.5,835.2 309.2,829.0 322.2,824.3 336.2,821.3 351.0,820.0 366.4,820.4 385.8,823.3 384.3,827.2 364.9,824.3 349.6,823.9 334.7,825.2 320.7,828.2 307.7,832.9 296.0,839.0 287.1,845.6 279.4,853.1 273.2,861.6 268.5,870.7 265.1,882.0" fill="url(#thm)" />
<polygon points="267.2,876.7 270.6,865.5 275.3,856.3 281.5,847.8 289.1,840.2 298.1,833.7 309.7,827.5 322.7,822.8 336.8,819.8 351.6,818.5 366.9,818.9 386.3,821.8 385.8,823.3 366.4,820.4 351.0,820.0 336.2,821.3 322.2,824.3 309.2,829.0 297.5,835.2 288.5,841.7 280.9,849.3 274.7,857.7 270.0,866.9 266.6,878.2" fill="url(#thl)" />
<polygon points="263.7,885.5 267.1,874.3 271.8,865.1 278.0,856.7 285.7,849.1 294.6,842.6 306.3,836.4 319.3,831.8 333.3,828.8 348.2,827.5 363.5,827.9 383.0,830.8 381.5,834.8 362.1,831.9 346.7,831.4 331.9,832.7 317.8,835.7 304.8,840.3 293.1,846.5 284.2,853.0 276.6,860.5 270.3,868.9 265.7,878.1 262.3,889.3" fill="url(#thm)" />
<polygon points="264.3,884.0 267.7,872.8 272.4,863.6 278.6,855.2 286.3,847.7 295.2,841.1 306.9,834.9 319.9,830.3 333.9,827.3 348.8,826.0 364.1,826.4 383.5,829.3 383.0,830.8 363.5,827.9 348.2,827.5 333.3,828.8 319.3,831.8 306.3,836.4 294.6,842.6 285.7,849.1 278.0,856.7 271.8,865.1 267.1,874.3 263.7,885.5" fill="url(#thl)" />
<polygon points="260.9,892.8 264.3,881.6 269.0,872.5 275.2,864.1 282.8,856.6 291.8,850.0 303.4,843.9 316.4,839.3 330.5,836.3 345.3,835.1 360.7,835.5 380.1,838.4 378.7,842.3 359.2,839.4 343.9,839.0 329.0,840.3 314.9,843.2 301.9,847.8 290.3,853.9 281.3,860.4 273.7,867.9 267.5,876.3 262.8,885.4 259.4,896.6" fill="url(#thm)" />
<polygon points="261.5,891.3 264.9,880.1 269.5,871.0 275.8,862.6 283.4,855.1 292.3,848.5 304.0,842.4 317.0,837.8 331.1,834.8 345.9,833.6 361.3,834.0 380.7,836.9 380.1,838.4 360.7,835.5 345.3,835.1 330.5,836.3 316.4,839.3 303.4,843.9 291.8,850.0 282.8,856.6 275.2,864.1 269.0,872.5 264.3,881.6 260.9,892.8" fill="url(#thl)" />
<polygon points="258.1,900.1 261.4,889.0 266.1,879.8 272.3,871.5 279.9,864.0 288.9,857.5 300.6,851.4 313.6,846.8 327.6,843.9 342.5,842.6 357.9,843.0 377.3,846.0 375.9,849.9 356.4,847.0 341.0,846.5 326.1,847.8 312.1,850.7 299.1,855.3 287.4,861.4 278.5,867.9 270.8,875.3 264.6,883.7 260.0,892.8 256.6,903.9" fill="url(#thm)" />
<polygon points="258.6,898.6 262.0,887.5 266.7,878.4 272.9,870.0 280.5,862.5 289.5,856.0 301.1,849.9 314.1,845.3 328.2,842.4 343.1,841.1 358.4,841.5 377.9,844.5 377.3,846.0 357.9,843.0 342.5,842.6 327.6,843.9 313.6,846.8 300.6,851.4 288.9,857.5 279.9,864.0 272.3,871.5 266.1,879.8 261.4,889.0 258.1,900.1" fill="url(#thl)" />
<polygon points="255.2,907.4 258.6,896.3 263.3,887.2 269.4,878.9 277.1,871.4 286.0,864.9 297.7,858.9 310.7,854.3 324.8,851.4 339.6,850.2 355.0,850.6 374.5,853.6 373.0,857.5 353.5,854.6 338.2,854.1 323.3,855.3 309.2,858.2 296.2,862.8 284.5,868.8 275.6,875.3 268.0,882.7 261.8,891.1 257.1,900.1 253.7,911.3" fill="url(#thm)" />
<polygon points="255.8,906.0 259.2,894.8 263.8,885.7 270.0,877.4 277.6,869.9 286.6,863.4 298.3,857.4 311.3,852.8 325.3,849.9 340.2,848.6 355.6,849.1 375.1,852.0 374.5,853.6 355.0,850.6 339.6,850.2 324.8,851.4 310.7,854.3 297.7,858.9 286.0,864.9 277.1,871.4 269.4,878.9 263.3,887.2 258.6,896.3 255.2,907.4" fill="url(#thl)" />
<polygon points="252.4,914.8 255.7,903.7 260.4,894.6 266.6,886.3 274.2,878.9 283.1,872.4 294.8,866.4 307.8,861.8 321.9,858.9 336.8,857.7 352.2,858.2 371.7,861.2 370.2,865.1 350.7,862.1 335.3,861.7 320.4,862.9 306.3,865.8 293.3,870.3 281.7,876.3 272.7,882.7 265.1,890.2 258.9,898.5 254.2,907.5 250.9,918.6" fill="url(#thm)" />
<polygon points="252.9,913.3 256.3,902.2 261.0,893.1 267.2,884.8 274.8,877.4 283.7,870.9 295.4,864.9 308.4,860.3 322.5,857.4 337.4,856.2 352.7,856.7 372.2,859.6 371.7,861.2 352.2,858.2 336.8,857.7 321.9,858.9 307.8,861.8 294.8,866.4 283.1,872.4 274.2,878.9 266.6,886.3 260.4,894.6 255.7,903.7 252.4,914.8" fill="url(#thl)" />
<polygon points="249.5,922.1 252.9,911.0 257.5,902.0 263.7,893.7 271.3,886.3 280.3,879.9 291.9,873.9 305.0,869.4 319.0,866.5 333.9,865.3 349.3,865.8 368.8,868.8 367.4,872.7 347.8,869.7 332.4,869.2 317.5,870.4 303.5,873.3 290.4,877.8 278.8,883.8 269.8,890.2 262.2,897.6 256.0,905.9 251.4,914.9 248.0,925.9" fill="url(#thm)" />
<polygon points="250.1,920.7 253.4,909.6 258.1,900.5 264.3,892.2 271.9,884.8 280.8,878.4 292.5,872.4 305.5,867.9 319.6,865.0 334.5,863.8 349.9,864.3 369.4,867.2 368.8,868.8 349.3,865.8 333.9,865.3 319.0,866.5 305.0,869.4 291.9,873.9 280.3,879.9 271.3,886.3 263.7,893.7 257.5,902.0 252.9,911.0 249.5,922.1" fill="url(#thl)" />
<polygon points="246.7,929.5 250.0,918.4 254.7,909.4 260.8,901.1 268.4,893.8 277.4,887.4 289.1,881.4 302.1,876.9 316.2,874.0 331.1,872.9 346.5,873.4 366.0,876.4 364.5,880.3 345.0,877.3 329.6,876.8 314.7,878.0 300.6,880.8 287.6,885.3 275.9,891.2 266.9,897.6 259.3,905.0 253.2,913.3 248.5,922.3 245.2,933.3" fill="url(#thm)" />
<polygon points="247.2,928.0 250.6,916.9 255.2,907.9 261.4,899.7 269.0,892.3 278.0,885.9 289.6,879.9 302.7,875.4 316.7,872.5 331.6,871.3 347.0,871.8 366.6,874.8 366.0,876.4 346.5,873.4 331.1,872.9 316.2,874.0 302.1,876.9 289.1,881.4 277.4,887.4 268.4,893.8 260.8,901.1 254.7,909.4 250.0,918.4 246.7,929.5" fill="url(#thl)" />
<polygon points="243.8,936.8 247.1,925.8 251.8,916.8 257.9,908.6 265.6,901.2 274.5,894.8 286.2,888.9 299.2,884.4 313.3,881.6 328.2,880.4 343.6,881.0 363.2,884.0 361.7,887.9 342.1,884.9 326.7,884.4 311.8,885.5 297.7,888.4 284.7,892.8 273.0,898.7 264.1,905.1 256.4,912.5 250.3,920.7 245.7,929.6 242.3,940.7" fill="url(#thm)" />
<polygon points="244.4,935.4 247.7,924.3 252.4,915.3 258.5,907.1 266.1,899.7 275.1,893.3 286.8,887.4 299.8,882.9 313.9,880.1 328.8,878.9 344.2,879.4 363.7,882.5 363.2,884.0 343.6,881.0 328.2,880.4 313.3,881.6 299.2,884.4 286.2,888.9 274.5,894.8 265.6,901.2 257.9,908.6 251.8,916.8 247.1,925.8 243.8,936.8" fill="url(#thl)" />
<polygon points="241.0,944.2 244.3,933.2 248.9,924.2 255.1,916.0 262.7,908.7 271.6,902.3 283.3,896.4 296.3,892.0 310.4,889.2 325.3,888.0 340.8,888.6 360.3,891.6 358.9,895.6 339.3,892.5 323.8,892.0 308.9,893.1 294.8,895.9 281.8,900.3 270.1,906.2 261.2,912.6 253.6,919.9 247.4,928.1 242.8,937.0 239.5,948.0" fill="url(#thm)" />
<polygon points="241.5,942.7 244.9,931.7 249.5,922.8 255.6,914.5 263.3,907.2 272.2,900.8 283.9,894.9 296.9,890.5 311.0,887.7 325.9,886.5 341.3,887.0 360.9,890.1 360.3,891.6 340.8,888.6 325.3,888.0 310.4,889.2 296.3,892.0 283.3,896.4 271.6,902.3 262.7,908.7 255.1,916.0 248.9,924.2 244.3,933.2 241.0,944.2" fill="url(#thl)" />
<polygon points="238.1,951.6 241.4,940.6 246.0,931.7 252.2,923.5 259.8,916.2 268.7,909.8 280.4,903.9 293.4,899.5 307.5,896.7 322.5,895.6 337.9,896.2 357.5,899.2 356.0,903.2 336.4,900.1 321.0,899.6 306.0,900.7 291.9,903.5 278.9,907.8 267.2,913.7 258.3,920.1 250.7,927.3 244.5,935.5 239.9,944.4 236.6,955.4" fill="url(#thm)" />
<polygon points="238.7,950.1 242.0,939.1 246.6,930.2 252.8,922.0 260.4,914.7 269.3,908.3 281.0,902.4 294.0,898.0 308.1,895.2 323.0,894.1 338.5,894.7 358.1,897.7 357.5,899.2 337.9,896.2 322.5,895.6 307.5,896.7 293.4,899.5 280.4,903.9 268.7,909.8 259.8,916.2 252.2,923.5 246.0,931.7 241.4,940.6 238.1,951.6" fill="url(#thl)" />
<polygon points="235.2,958.9 238.5,948.0 243.1,939.1 249.3,930.9 256.9,923.6 265.8,917.3 277.5,911.5 290.5,907.1 304.7,904.3 319.6,903.2 335.0,903.8 354.6,906.9 353.2,910.8 333.6,907.8 318.1,907.2 303.2,908.3 289.0,911.0 276.0,915.4 264.3,921.2 255.4,927.5 247.8,934.8 241.6,943.0 237.0,951.8 233.7,962.8" fill="url(#thm)" />
<polygon points="235.8,957.5 239.1,946.5 243.7,937.6 249.9,929.4 257.5,922.1 266.4,915.8 278.1,909.9 291.1,905.6 305.2,902.8 320.2,901.7 335.6,902.3 355.2,905.3 354.6,906.9 335.0,903.8 319.6,903.2 304.7,904.3 290.5,907.1 277.5,911.5 265.8,917.3 256.9,923.6 249.3,930.9 243.1,939.1 238.5,948.0 235.2,958.9" fill="url(#thl)" />
<polygon points="232.4,966.3 235.7,955.4 240.3,946.5 246.4,938.4 254.0,931.1 262.9,924.9 274.6,919.0 287.7,914.7 301.8,911.9 316.7,910.8 332.2,911.4 351.8,914.5 350.3,918.5 330.7,915.4 315.2,914.8 300.3,915.9 286.2,918.6 273.1,922.9 261.4,928.8 252.5,935.0 244.9,942.3 238.8,950.4 234.2,959.3 230.9,970.2" fill="url(#thm)" />
<polygon points="232.9,964.8 236.2,953.9 240.8,945.0 247.0,936.9 254.6,929.6 263.5,923.3 275.2,917.5 288.2,913.1 302.4,910.4 317.3,909.3 332.8,909.9 352.4,913.0 351.8,914.5 332.2,911.4 316.7,910.8 301.8,911.9 287.7,914.7 274.6,919.0 262.9,924.9 254.0,931.1 246.4,938.4 240.3,946.5 235.7,955.4 232.4,966.3" fill="url(#thl)" />
</g>
<polygon points="574.3,267.2 562.6,266.9 548.8,268.3 535.1,271.8 521.3,278.2 510.3,286.5 503.4,294.7 500.6,301.2 507.5,295.4 521.3,287.2 535.1,282.4 548.8,280.6 562.6,281.4 565.4,283.0" fill="url(#g5)" />
<polygon points="266.9,888.3 335.7,878.4 336.9,879.6 323.4,927.5 253.2,943.4 255.5,929.2" fill="url(#g6)" />
<polygon points="255.5,929.2 267.8,932.1 291.1,932.9 315.7,929.2 325.5,932.9 308.3,937.8 271.5,941.5 253.0,951.3" fill="#1e1e20" />
<polygon points="368.2,797.3 352.2,801.3 366.1,802.6" fill="url(#teethg)" />
<polygon points="365.3,804.7 344.5,808.9 363.2,810.1" fill="url(#teethg)" />
<polygon points="362.5,812.0 336.9,816.5 360.4,817.6" fill="url(#teethg)" />
<polygon points="359.7,819.3 329.3,824.1 357.5,825.1" fill="url(#teethg)" />
<polygon points="356.9,826.6 321.7,831.7 354.6,832.6" fill="url(#teethg)" />
<polygon points="354.1,834.0 314.1,839.3 351.7,840.1" fill="url(#teethg)" />
<polygon points="351.3,841.3 311.3,846.9 348.8,847.6" fill="url(#teethg)" />
<polygon points="348.4,848.6 308.4,854.5 346.0,855.1" fill="url(#teethg)" />
<polygon points="345.6,856.0 305.6,862.1 343.1,862.6" fill="url(#teethg)" />
<polygon points="342.8,863.3 302.8,869.7 340.2,870.1" fill="url(#teethg)" />
<polygon points="340.0,870.6 300.0,877.4 337.3,877.6" fill="url(#teethg)" />
<polygon points="442.2,431.5 475.4,423.4 484.7,424.6 498.7,441.8 482.7,494.6 479.1,492.9 448.3,494.6 422.8,503.7 410.7,520.5 396.7,555.4 370.9,492.2 382.0,457.8" fill="url(#g8)" />
<polygon points="442.2,431.5 475.4,423.4 477.3,457.0 453.2,467.6 431.1,471.8 406.5,466.9 382.0,457.8" fill="url(#g9)" />
<polygon points="370.9,492.2 382.0,457.8 406.5,466.9 431.1,471.8 423.7,500.8 407.8,520.5 395.5,554.4" fill="#363638" />
<polygon points="431.1,471.8 453.2,467.6 477.3,457.0 479.5,492.9 448.3,494.6 423.7,500.8" fill="#404042" />
<polygon points="475.4,423.4 484.7,424.6 478.3,457.8 476.8,457.0" fill="#9c9c9e" />
<polygon points="484.7,424.6 498.7,441.8 482.7,494.6 479.1,492.9 478.3,457.8" fill="#2c2c2e" />
<polygon points="498.7,442.3 499.3,447.7 496.9,448.2" fill="#2c2c2e" />
<polygon points="496.7,448.8 497.3,454.2 494.9,454.7" fill="#2c2c2e" />
<polygon points="494.7,455.4 495.3,460.8 492.9,461.3" fill="#2c2c2e" />
<polygon points="492.7,461.9 493.3,467.3 490.9,467.8" fill="#2c2c2e" />
<polygon points="490.7,468.5 491.3,473.9 488.9,474.4" fill="#2c2c2e" />
<polygon points="488.7,475.0 489.3,480.4 486.9,480.9" fill="#2c2c2e" />
<polygon points="486.7,481.6 487.3,486.9 484.9,487.4" fill="#2c2c2e" />
<polygon points="484.7,488.1 485.3,493.5 482.9,494.0" fill="#2c2c2e" />
<polygon points="477.8,580.7 519.6,598.0 534.0,600.0 556.0,602.0 556.0,610.0 510.0,709.4 415.5,964.4 357.7,937.7 338.0,931.8 348.0,932.0 403.0,775.7 449.0,658.0 476.0,574.0" fill="url(#g10)" />
<polygon points="474.6,582.5 521.3,599.7 556.0,601.1 556.0,610.7 531.2,608.3 517.7,653.7 507.8,678.3 490.6,690.6 453.7,683.2 442.7,653.7 453.7,604.6" fill="url(#g11)" />
<polygon points="451.3,661.1 461.1,653.7 498.0,664.8 495.5,688.2 488.2,693.1 461.1,680.8 452.5,673.4" fill="#8c8c8e" />
<polygon points="458.7,663.6 483.2,669.7 482.0,677.1 461.1,673.4" fill="#3a3a3c" />
<path d="M445.9 670.0 L445.8 672.3 L446.2 674.8 L447.0 677.3 L448.2 679.9 L449.9 682.5 L451.9 685.1 L454.3 687.6 L456.9 690.0 L459.8 692.2 L462.9 694.4 L466.1 696.3 L469.4 698.1 L472.7 699.6 L475.9 700.9 L479.1 702.0 L482.0 702.8 L484.8 703.3 L487.3 703.6 L489.5 703.7 L491.3 703.5 L492.7 703.0 L493.7 702.4 L494.2 701.5 L494.3 700.5" fill="none" stroke="#3a2826" stroke-width="7.2" stroke-linecap="round"/>
<path d="M445.9 670.0 L445.8 672.3 L446.2 674.8 L447.0 677.3 L448.2 679.9 L449.9 682.5 L451.9 685.1 L454.3 687.6 L456.9 690.0 L459.8 692.2 L462.9 694.4 L466.1 696.3 L469.4 698.1 L472.7 699.6 L475.9 700.9 L479.1 702.0 L482.0 702.8 L484.8 703.3 L487.3 703.6 L489.5 703.7 L491.3 703.5 L492.7 703.0 L493.7 702.4 L494.2 701.5 L494.3 700.5" fill="none" stroke="#777375" stroke-width="5.4" stroke-linecap="round"/>
<path d="M445.9 670.0 L445.8 672.3 L446.2 674.8 L447.0 677.3 L448.2 679.9 L449.9 682.5 L451.9 685.1 L454.3 687.6 L456.9 690.0 L459.8 692.2 L462.9 694.4 L466.1 696.3 L469.4 698.1 L472.7 699.6 L475.9 700.9 L479.1 702.0 L482.0 702.8 L484.8 703.3 L487.3 703.6 L489.5 703.7 L491.3 703.5 L492.7 703.0 L493.7 702.4 L494.2 701.5 L494.3 700.5" fill="none" stroke="#a09ea0" stroke-width="2.4" stroke-linecap="round"/>
<path d="M434.5 699.5 L434.4 701.9 L434.8 704.4 L435.6 706.9 L436.9 709.5 L438.6 712.1 L440.6 714.7 L443.0 717.3 L445.7 719.7 L448.6 722.0 L451.8 724.1 L455.0 726.1 L458.4 727.9 L461.7 729.5 L465.0 730.8 L468.2 731.8 L471.2 732.6 L474.0 733.2 L476.5 733.5 L478.7 733.5 L480.6 733.3 L482.0 732.8 L483.0 732.2 L483.6 731.3 L483.7 730.3" fill="none" stroke="#3a2826" stroke-width="7.2" stroke-linecap="round"/>
<path d="M434.5 699.5 L434.4 701.9 L434.8 704.4 L435.6 706.9 L436.9 709.5 L438.6 712.1 L440.6 714.7 L443.0 717.3 L445.7 719.7 L448.6 722.0 L451.8 724.1 L455.0 726.1 L458.4 727.9 L461.7 729.5 L465.0 730.8 L468.2 731.8 L471.2 732.6 L474.0 733.2 L476.5 733.5 L478.7 733.5 L480.6 733.3 L482.0 732.8 L483.0 732.2 L483.6 731.3 L483.7 730.3" fill="none" stroke="#777375" stroke-width="5.4" stroke-linecap="round"/>
<path d="M434.5 699.5 L434.4 701.9 L434.8 704.4 L435.6 706.9 L436.9 709.5 L438.6 712.1 L440.6 714.7 L443.0 717.3 L445.7 719.7 L448.6 722.0 L451.8 724.1 L455.0 726.1 L458.4 727.9 L461.7 729.5 L465.0 730.8 L468.2 731.8 L471.2 732.6 L474.0 733.2 L476.5 733.5 L478.7 733.5 L480.6 733.3 L482.0 732.8 L483.0 732.2 L483.6 731.3 L483.7 730.3" fill="none" stroke="#a09ea0" stroke-width="2.4" stroke-linecap="round"/>
<path d="M423.2 729.0 L423.1 731.4 L423.5 733.9 L424.3 736.5 L425.6 739.1 L427.3 741.8 L429.4 744.4 L431.8 746.9 L434.5 749.4 L437.5 751.7 L440.7 753.9 L444.0 755.9 L447.3 757.7 L450.7 759.3 L454.1 760.6 L457.3 761.7 L460.4 762.5 L463.2 763.0 L465.8 763.3 L468.0 763.3 L469.9 763.1 L471.3 762.6 L472.4 761.9 L472.9 761.0 L473.1 760.0" fill="none" stroke="#3a2826" stroke-width="7.2" stroke-linecap="round"/>
<path d="M423.2 729.0 L423.1 731.4 L423.5 733.9 L424.3 736.5 L425.6 739.1 L427.3 741.8 L429.4 744.4 L431.8 746.9 L434.5 749.4 L437.5 751.7 L440.7 753.9 L444.0 755.9 L447.3 757.7 L450.7 759.3 L454.1 760.6 L457.3 761.7 L460.4 762.5 L463.2 763.0 L465.8 763.3 L468.0 763.3 L469.9 763.1 L471.3 762.6 L472.4 761.9 L472.9 761.0 L473.1 760.0" fill="none" stroke="#777375" stroke-width="5.4" stroke-linecap="round"/>
<path d="M423.2 729.0 L423.1 731.4 L423.5 733.9 L424.3 736.5 L425.6 739.1 L427.3 741.8 L429.4 744.4 L431.8 746.9 L434.5 749.4 L437.5 751.7 L440.7 753.9 L444.0 755.9 L447.3 757.7 L450.7 759.3 L454.1 760.6 L457.3 761.7 L460.4 762.5 L463.2 763.0 L465.8 763.3 L468.0 763.3 L469.9 763.1 L471.3 762.6 L472.4 761.9 L472.9 761.0 L473.1 760.0" fill="none" stroke="#a09ea0" stroke-width="2.4" stroke-linecap="round"/>
<path d="M411.8 758.5 L411.7 761.0 L412.1 763.5 L412.9 766.1 L414.3 768.8 L416.0 771.4 L418.1 774.1 L420.6 776.6 L423.3 779.1 L426.3 781.5 L429.5 783.7 L432.9 785.7 L436.3 787.5 L439.8 789.1 L443.1 790.4 L446.4 791.5 L449.5 792.3 L452.4 792.8 L455.0 793.1 L457.3 793.1 L459.2 792.9 L460.7 792.4 L461.7 791.7 L462.3 790.8 L462.4 789.7" fill="none" stroke="#3a2826" stroke-width="7.2" stroke-linecap="round"/>
<path d="M411.8 758.5 L411.7 761.0 L412.1 763.5 L412.9 766.1 L414.3 768.8 L416.0 771.4 L418.1 774.1 L420.6 776.6 L423.3 779.1 L426.3 781.5 L429.5 783.7 L432.9 785.7 L436.3 787.5 L439.8 789.1 L443.1 790.4 L446.4 791.5 L449.5 792.3 L452.4 792.8 L455.0 793.1 L457.3 793.1 L459.2 792.9 L460.7 792.4 L461.7 791.7 L462.3 790.8 L462.4 789.7" fill="none" stroke="#777375" stroke-width="5.4" stroke-linecap="round"/>
<path d="M411.8 758.5 L411.7 761.0 L412.1 763.5 L412.9 766.1 L414.3 768.8 L416.0 771.4 L418.1 774.1 L420.6 776.6 L423.3 779.1 L426.3 781.5 L429.5 783.7 L432.9 785.7 L436.3 787.5 L439.8 789.1 L443.1 790.4 L446.4 791.5 L449.5 792.3 L452.4 792.8 L455.0 793.1 L457.3 793.1 L459.2 792.9 L460.7 792.4 L461.7 791.7 L462.3 790.8 L462.4 789.7" fill="none" stroke="#a09ea0" stroke-width="2.4" stroke-linecap="round"/>
<path d="M400.4 788.0 L400.3 790.5 L400.7 793.1 L401.6 795.7 L402.9 798.4 L404.7 801.1 L406.8 803.7 L409.3 806.3 L412.1 808.8 L415.2 811.2 L418.4 813.4 L421.8 815.5 L425.3 817.3 L428.8 818.9 L432.2 820.2 L435.5 821.3 L438.7 822.1 L441.6 822.6 L444.3 822.9 L446.6 822.9 L448.5 822.7 L450.0 822.2 L451.0 821.5 L451.6 820.5 L451.8 819.5" fill="none" stroke="#3a2826" stroke-width="7.2" stroke-linecap="round"/>
<path d="M400.4 788.0 L400.3 790.5 L400.7 793.1 L401.6 795.7 L402.9 798.4 L404.7 801.1 L406.8 803.7 L409.3 806.3 L412.1 808.8 L415.2 811.2 L418.4 813.4 L421.8 815.5 L425.3 817.3 L428.8 818.9 L432.2 820.2 L435.5 821.3 L438.7 822.1 L441.6 822.6 L444.3 822.9 L446.6 822.9 L448.5 822.7 L450.0 822.2 L451.0 821.5 L451.6 820.5 L451.8 819.5" fill="none" stroke="#777375" stroke-width="5.4" stroke-linecap="round"/>
<path d="M400.4 788.0 L400.3 790.5 L400.7 793.1 L401.6 795.7 L402.9 798.4 L404.7 801.1 L406.8 803.7 L409.3 806.3 L412.1 808.8 L415.2 811.2 L418.4 813.4 L421.8 815.5 L425.3 817.3 L428.8 818.9 L432.2 820.2 L435.5 821.3 L438.7 822.1 L441.6 822.6 L444.3 822.9 L446.6 822.9 L448.5 822.7 L450.0 822.2 L451.0 821.5 L451.6 820.5 L451.8 819.5" fill="none" stroke="#a09ea0" stroke-width="2.4" stroke-linecap="round"/>
<path d="M389.0 817.6 L389.0 820.0 L389.4 822.6 L390.3 825.3 L391.6 828.0 L393.4 830.7 L395.5 833.4 L398.1 836.0 L400.9 838.6 L404.0 841.0 L407.3 843.2 L410.8 845.2 L414.3 847.1 L417.8 848.7 L421.3 850.0 L424.7 851.1 L427.9 851.9 L430.8 852.5 L433.5 852.7 L435.8 852.7 L437.8 852.5 L439.3 852.0 L440.4 851.2 L441.0 850.3 L441.1 849.2" fill="none" stroke="#3a2826" stroke-width="7.2" stroke-linecap="round"/>
<path d="M389.0 817.6 L389.0 820.0 L389.4 822.6 L390.3 825.3 L391.6 828.0 L393.4 830.7 L395.5 833.4 L398.1 836.0 L400.9 838.6 L404.0 841.0 L407.3 843.2 L410.8 845.2 L414.3 847.1 L417.8 848.7 L421.3 850.0 L424.7 851.1 L427.9 851.9 L430.8 852.5 L433.5 852.7 L435.8 852.7 L437.8 852.5 L439.3 852.0 L440.4 851.2 L441.0 850.3 L441.1 849.2" fill="none" stroke="#777375" stroke-width="5.4" stroke-linecap="round"/>
<path d="M389.0 817.6 L389.0 820.0 L389.4 822.6 L390.3 825.3 L391.6 828.0 L393.4 830.7 L395.5 833.4 L398.1 836.0 L400.9 838.6 L404.0 841.0 L407.3 843.2 L410.8 845.2 L414.3 847.1 L417.8 848.7 L421.3 850.0 L424.7 851.1 L427.9 851.9 L430.8 852.5 L433.5 852.7 L435.8 852.7 L437.8 852.5 L439.3 852.0 L440.4 851.2 L441.0 850.3 L441.1 849.2" fill="none" stroke="#a09ea0" stroke-width="2.4" stroke-linecap="round"/>
<path d="M378.3 844.7 L377.7 847.1 L377.6 849.6 L378.0 852.2 L378.9 854.9 L380.3 857.6 L382.1 860.4 L384.3 863.1 L386.8 865.7 L389.7 868.3 L392.9 870.7 L396.2 873.0 L399.7 875.0 L403.3 876.9 L406.8 878.5 L410.4 879.9 L413.8 880.9 L417.0 881.8 L420.0 882.3 L422.7 882.6 L425.1 882.5 L427.1 882.3 L428.6 881.7 L429.7 881.0 L430.3 880.1 L430.5 878.9" fill="none" stroke="#3a2826" stroke-width="7.2" stroke-linecap="round"/>
<path d="M378.3 844.7 L377.7 847.1 L377.6 849.6 L378.0 852.2 L378.9 854.9 L380.3 857.6 L382.1 860.4 L384.3 863.1 L386.8 865.7 L389.7 868.3 L392.9 870.7 L396.2 873.0 L399.7 875.0 L403.3 876.9 L406.8 878.5 L410.4 879.9 L413.8 880.9 L417.0 881.8 L420.0 882.3 L422.7 882.6 L425.1 882.5 L427.1 882.3 L428.6 881.7 L429.7 881.0 L430.3 880.1 L430.5 878.9" fill="none" stroke="#777375" stroke-width="5.4" stroke-linecap="round"/>
<path d="M378.3 844.7 L377.7 847.1 L377.6 849.6 L378.0 852.2 L378.9 854.9 L380.3 857.6 L382.1 860.4 L384.3 863.1 L386.8 865.7 L389.7 868.3 L392.9 870.7 L396.2 873.0 L399.7 875.0 L403.3 876.9 L406.8 878.5 L410.4 879.9 L413.8 880.9 L417.0 881.8 L420.0 882.3 L422.7 882.6 L425.1 882.5 L427.1 882.3 L428.6 881.7 L429.7 881.0 L430.3 880.1 L430.5 878.9" fill="none" stroke="#a09ea0" stroke-width="2.4" stroke-linecap="round"/>
<path d="M366.3 876.6 L366.2 879.1 L366.6 881.8 L367.6 884.5 L368.9 887.2 L370.8 890.0 L373.0 892.7 L375.6 895.4 L378.5 898.0 L381.7 900.4 L385.1 902.7 L388.6 904.8 L392.2 906.7 L395.9 908.3 L399.5 909.7 L402.9 910.8 L406.2 911.6 L409.2 912.1 L412.0 912.4 L414.4 912.4 L416.4 912.1 L418.0 911.5 L419.1 910.8 L419.7 909.8 L419.8 908.7" fill="none" stroke="#3a2826" stroke-width="7.2" stroke-linecap="round"/>
<path d="M366.3 876.6 L366.2 879.1 L366.6 881.8 L367.6 884.5 L368.9 887.2 L370.8 890.0 L373.0 892.7 L375.6 895.4 L378.5 898.0 L381.7 900.4 L385.1 902.7 L388.6 904.8 L392.2 906.7 L395.9 908.3 L399.5 909.7 L402.9 910.8 L406.2 911.6 L409.2 912.1 L412.0 912.4 L414.4 912.4 L416.4 912.1 L418.0 911.5 L419.1 910.8 L419.7 909.8 L419.8 908.7" fill="none" stroke="#777375" stroke-width="5.4" stroke-linecap="round"/>
<path d="M366.3 876.6 L366.2 879.1 L366.6 881.8 L367.6 884.5 L368.9 887.2 L370.8 890.0 L373.0 892.7 L375.6 895.4 L378.5 898.0 L381.7 900.4 L385.1 902.7 L388.6 904.8 L392.2 906.7 L395.9 908.3 L399.5 909.7 L402.9 910.8 L406.2 911.6 L409.2 912.1 L412.0 912.4 L414.4 912.4 L416.4 912.1 L418.0 911.5 L419.1 910.8 L419.7 909.8 L419.8 908.7" fill="none" stroke="#a09ea0" stroke-width="2.4" stroke-linecap="round"/>
<path d="M355.5 903.7 L354.9 906.1 L354.9 908.7 L355.3 911.3 L356.2 914.1 L357.6 916.9 L359.5 919.7 L361.7 922.4 L364.4 925.1 L367.3 927.7 L370.5 930.2 L374.0 932.5 L377.6 934.6 L381.2 936.5 L384.9 938.1 L388.5 939.5 L392.0 940.6 L395.4 941.4 L398.4 941.9 L401.2 942.2 L403.6 942.2 L405.7 941.9 L407.3 941.3 L408.4 940.5 L409.0 939.6 L409.2 938.4" fill="none" stroke="#3a2826" stroke-width="7.2" stroke-linecap="round"/>
<path d="M355.5 903.7 L354.9 906.1 L354.9 908.7 L355.3 911.3 L356.2 914.1 L357.6 916.9 L359.5 919.7 L361.7 922.4 L364.4 925.1 L367.3 927.7 L370.5 930.2 L374.0 932.5 L377.6 934.6 L381.2 936.5 L384.9 938.1 L388.5 939.5 L392.0 940.6 L395.4 941.4 L398.4 941.9 L401.2 942.2 L403.6 942.2 L405.7 941.9 L407.3 941.3 L408.4 940.5 L409.0 939.6 L409.2 938.4" fill="none" stroke="#777375" stroke-width="5.4" stroke-linecap="round"/>
<path d="M355.5 903.7 L354.9 906.1 L354.9 908.7 L355.3 911.3 L356.2 914.1 L357.6 916.9 L359.5 919.7 L361.7 922.4 L364.4 925.1 L367.3 927.7 L370.5 930.2 L374.0 932.5 L377.6 934.6 L381.2 936.5 L384.9 938.1 L388.5 939.5 L392.0 940.6 L395.4 941.4 L398.4 941.9 L401.2 942.2 L403.6 942.2 L405.7 941.9 L407.3 941.3 L408.4 940.5 L409.0 939.6 L409.2 938.4" fill="none" stroke="#a09ea0" stroke-width="2.4" stroke-linecap="round"/>
<path d="M343.8 935.7 L343.7 938.3 L344.2 941.0 L345.1 943.7 L346.6 946.5 L348.5 949.3 L350.8 952.1 L353.4 954.9 L356.4 957.5 L359.7 959.9 L363.1 962.3 L366.8 964.4 L370.4 966.3 L374.1 967.9 L377.8 969.3 L381.3 970.4 L384.7 971.2 L387.8 971.7 L390.6 972.0 L393.0 971.9 L395.1 971.6 L396.7 971.1 L397.8 970.3 L398.4 969.3 L398.6 968.1" fill="none" stroke="#3a2826" stroke-width="7.2" stroke-linecap="round"/>
<path d="M343.8 935.7 L343.7 938.3 L344.2 941.0 L345.1 943.7 L346.6 946.5 L348.5 949.3 L350.8 952.1 L353.4 954.9 L356.4 957.5 L359.7 959.9 L363.1 962.3 L366.8 964.4 L370.4 966.3 L374.1 967.9 L377.8 969.3 L381.3 970.4 L384.7 971.2 L387.8 971.7 L390.6 972.0 L393.0 971.9 L395.1 971.6 L396.7 971.1 L397.8 970.3 L398.4 969.3 L398.6 968.1" fill="none" stroke="#777375" stroke-width="5.4" stroke-linecap="round"/>
<path d="M343.8 935.7 L343.7 938.3 L344.2 941.0 L345.1 943.7 L346.6 946.5 L348.5 949.3 L350.8 952.1 L353.4 954.9 L356.4 957.5 L359.7 959.9 L363.1 962.3 L366.8 964.4 L370.4 966.3 L374.1 967.9 L377.8 969.3 L381.3 970.4 L384.7 971.2 L387.8 971.7 L390.6 972.0 L393.0 971.9 L395.1 971.6 L396.7 971.1 L397.8 970.3 L398.4 969.3 L398.6 968.1" fill="none" stroke="#a09ea0" stroke-width="2.4" stroke-linecap="round"/>
<path d="M333.8 963.1 L333.2 965.5 L333.1 968.0 L333.6 970.7 L334.5 973.5 L336.0 976.3 L337.9 979.1 L340.2 981.9" fill="none" stroke="#3a2826" stroke-width="7.2" stroke-linecap="round"/>
<path d="M333.8 963.1 L333.2 965.5 L333.1 968.0 L333.6 970.7 L334.5 973.5 L336.0 976.3 L337.9 979.1 L340.2 981.9" fill="none" stroke="#777375" stroke-width="5.4" stroke-linecap="round"/>
<path d="M333.8 963.1 L333.2 965.5 L333.1 968.0 L333.6 970.7 L334.5 973.5 L336.0 976.3 L337.9 979.1 L340.2 981.9" fill="none" stroke="#a09ea0" stroke-width="2.4" stroke-linecap="round"/>
<path d="M504.9 671.8 L505.0 670.8 L504.6 669.7 L503.8 668.5 L502.5 667.2 L500.9 665.9 L498.8 664.5 L496.3 663.2 L493.5 662.0 L490.4 660.8 L487.1 659.8 L483.6 658.9 L479.9 658.2 L476.2 657.6 L472.5 657.3 L468.8 657.3 L465.2 657.5 L461.8 657.9 L458.6 658.6 L455.7 659.5 L453.0 660.7 L450.8 662.2 L448.9 663.8 L447.5 665.7 L446.5 667.8 L445.9 670.0" fill="none" stroke="#443c3c" stroke-width="8" stroke-linecap="round"/>
<path d="M504.9 671.8 L505.0 670.8 L504.6 669.7 L503.8 668.5 L502.5 667.2 L500.9 665.9 L498.8 664.5 L496.3 663.2 L493.5 662.0 L490.4 660.8 L487.1 659.8 L483.6 658.9 L479.9 658.2 L476.2 657.6 L472.5 657.3 L468.8 657.3 L465.2 657.5 L461.8 657.9 L458.6 658.6 L455.7 659.5 L453.0 660.7 L450.8 662.2 L448.9 663.8 L447.5 665.7 L446.5 667.8 L445.9 670.0" fill="none" stroke="#8c8a8c" stroke-width="6.4" stroke-linecap="round"/>
<path d="M504.9 671.8 L505.0 670.8 L504.6 669.7 L503.8 668.5 L502.5 667.2 L500.9 665.9 L498.8 664.5 L496.3 663.2 L493.5 662.0 L490.4 660.8 L487.1 659.8 L483.6 658.9 L479.9 658.2 L476.2 657.6 L472.5 657.3 L468.8 657.3 L465.2 657.5 L461.8 657.9 L458.6 658.6 L455.7 659.5 L453.0 660.7 L450.8 662.2 L448.9 663.8 L447.5 665.7 L446.5 667.8 L445.9 670.0" fill="none" stroke="#c4c4c6" stroke-width="3.6" stroke-linecap="round" transform="translate(0 -0.5)"/>
<path d="M504.9 671.8 L505.0 670.8 L504.6 669.7 L503.8 668.5 L502.5 667.2 L500.9 665.9 L498.8 664.5 L496.3 663.2 L493.5 662.0 L490.4 660.8 L487.1 659.8 L483.6 658.9 L479.9 658.2 L476.2 657.6 L472.5 657.3 L468.8 657.3 L465.2 657.5 L461.8 657.9 L458.6 658.6 L455.7 659.5 L453.0 660.7 L450.8 662.2 L448.9 663.8 L447.5 665.7 L446.5 667.8 L445.9 670.0" fill="none" stroke="#ffffff" stroke-width="2" stroke-linecap="round" transform="translate(0 -1)" stroke-dasharray="22 60" stroke-dashoffset="-18"/>
<path d="M494.3 700.5 L494.0 699.4 L493.2 698.2 L491.9 696.9 L490.2 695.5 L488.0 694.1 L485.5 692.8 L482.7 691.5 L479.6 690.3 L476.2 689.3 L472.7 688.4 L469.0 687.6 L465.2 687.1 L461.4 686.8 L457.7 686.7 L454.1 686.9 L450.6 687.3 L447.4 688.0 L444.4 689.0 L441.7 690.2 L439.5 691.6 L437.6 693.3 L436.1 695.2 L435.1 697.3 L434.5 699.5" fill="none" stroke="#443c3c" stroke-width="8" stroke-linecap="round"/>
<path d="M494.3 700.5 L494.0 699.4 L493.2 698.2 L491.9 696.9 L490.2 695.5 L488.0 694.1 L485.5 692.8 L482.7 691.5 L479.6 690.3 L476.2 689.3 L472.7 688.4 L469.0 687.6 L465.2 687.1 L461.4 686.8 L457.7 686.7 L454.1 686.9 L450.6 687.3 L447.4 688.0 L444.4 689.0 L441.7 690.2 L439.5 691.6 L437.6 693.3 L436.1 695.2 L435.1 697.3 L434.5 699.5" fill="none" stroke="#8c8a8c" stroke-width="6.4" stroke-linecap="round"/>
<path d="M494.3 700.5 L494.0 699.4 L493.2 698.2 L491.9 696.9 L490.2 695.5 L488.0 694.1 L485.5 692.8 L482.7 691.5 L479.6 690.3 L476.2 689.3 L472.7 688.4 L469.0 687.6 L465.2 687.1 L461.4 686.8 L457.7 686.7 L454.1 686.9 L450.6 687.3 L447.4 688.0 L444.4 689.0 L441.7 690.2 L439.5 691.6 L437.6 693.3 L436.1 695.2 L435.1 697.3 L434.5 699.5" fill="none" stroke="#c4c4c6" stroke-width="3.6" stroke-linecap="round" transform="translate(0 -0.5)"/>
<path d="M494.3 700.5 L494.0 699.4 L493.2 698.2 L491.9 696.9 L490.2 695.5 L488.0 694.1 L485.5 692.8 L482.7 691.5 L479.6 690.3 L476.2 689.3 L472.7 688.4 L469.0 687.6 L465.2 687.1 L461.4 686.8 L457.7 686.7 L454.1 686.9 L450.6 687.3 L447.4 688.0 L444.4 689.0 L441.7 690.2 L439.5 691.6 L437.6 693.3 L436.1 695.2 L435.1 697.3 L434.5 699.5" fill="none" stroke="#ffffff" stroke-width="2" stroke-linecap="round" transform="translate(0 -1)" stroke-dasharray="22 60" stroke-dashoffset="-18"/>
<path d="M483.7 730.3 L483.3 729.1 L482.5 727.9 L481.2 726.5 L479.5 725.1 L477.3 723.7 L474.8 722.4 L471.9 721.1 L468.8 719.9 L465.4 718.8 L461.7 717.8 L458.0 717.1 L454.2 716.5 L450.4 716.2 L446.6 716.1 L442.9 716.3 L439.4 716.7 L436.1 717.4 L433.1 718.4 L430.5 719.6 L428.1 721.1 L426.2 722.7 L424.8 724.7 L423.7 726.7 L423.2 729.0" fill="none" stroke="#443c3c" stroke-width="8" stroke-linecap="round"/>
<path d="M483.7 730.3 L483.3 729.1 L482.5 727.9 L481.2 726.5 L479.5 725.1 L477.3 723.7 L474.8 722.4 L471.9 721.1 L468.8 719.9 L465.4 718.8 L461.7 717.8 L458.0 717.1 L454.2 716.5 L450.4 716.2 L446.6 716.1 L442.9 716.3 L439.4 716.7 L436.1 717.4 L433.1 718.4 L430.5 719.6 L428.1 721.1 L426.2 722.7 L424.8 724.7 L423.7 726.7 L423.2 729.0" fill="none" stroke="#8c8a8c" stroke-width="6.4" stroke-linecap="round"/>
<path d="M483.7 730.3 L483.3 729.1 L482.5 727.9 L481.2 726.5 L479.5 725.1 L477.3 723.7 L474.8 722.4 L471.9 721.1 L468.8 719.9 L465.4 718.8 L461.7 717.8 L458.0 717.1 L454.2 716.5 L450.4 716.2 L446.6 716.1 L442.9 716.3 L439.4 716.7 L436.1 717.4 L433.1 718.4 L430.5 719.6 L428.1 721.1 L426.2 722.7 L424.8 724.7 L423.7 726.7 L423.2 729.0" fill="none" stroke="#c4c4c6" stroke-width="3.6" stroke-linecap="round" transform="translate(0 -0.5)"/>
<path d="M483.7 730.3 L483.3 729.1 L482.5 727.9 L481.2 726.5 L479.5 725.1 L477.3 723.7 L474.8 722.4 L471.9 721.1 L468.8 719.9 L465.4 718.8 L461.7 717.8 L458.0 717.1 L454.2 716.5 L450.4 716.2 L446.6 716.1 L442.9 716.3 L439.4 716.7 L436.1 717.4 L433.1 718.4 L430.5 719.6 L428.1 721.1 L426.2 722.7 L424.8 724.7 L423.7 726.7 L423.2 729.0" fill="none" stroke="#ffffff" stroke-width="2" stroke-linecap="round" transform="translate(0 -1)" stroke-dasharray="22 60" stroke-dashoffset="-18"/>
<path d="M473.1 760.0 L472.7 758.8 L471.8 757.5 L470.5 756.2 L468.8 754.8 L466.6 753.3 L464.1 752.0 L461.1 750.6 L457.9 749.4 L454.5 748.3 L450.8 747.3 L447.1 746.6 L443.2 746.0 L439.3 745.7 L435.5 745.6 L431.8 745.7 L428.2 746.2 L424.9 746.9 L421.9 747.8 L419.2 749.0 L416.8 750.5 L414.9 752.2 L413.4 754.1 L412.4 756.2 L411.8 758.5" fill="none" stroke="#443c3c" stroke-width="8" stroke-linecap="round"/>
<path d="M473.1 760.0 L472.7 758.8 L471.8 757.5 L470.5 756.2 L468.8 754.8 L466.6 753.3 L464.1 752.0 L461.1 750.6 L457.9 749.4 L454.5 748.3 L450.8 747.3 L447.1 746.6 L443.2 746.0 L439.3 745.7 L435.5 745.6 L431.8 745.7 L428.2 746.2 L424.9 746.9 L421.9 747.8 L419.2 749.0 L416.8 750.5 L414.9 752.2 L413.4 754.1 L412.4 756.2 L411.8 758.5" fill="none" stroke="#8c8a8c" stroke-width="6.4" stroke-linecap="round"/>
<path d="M473.1 760.0 L472.7 758.8 L471.8 757.5 L470.5 756.2 L468.8 754.8 L466.6 753.3 L464.1 752.0 L461.1 750.6 L457.9 749.4 L454.5 748.3 L450.8 747.3 L447.1 746.6 L443.2 746.0 L439.3 745.7 L435.5 745.6 L431.8 745.7 L428.2 746.2 L424.9 746.9 L421.9 747.8 L419.2 749.0 L416.8 750.5 L414.9 752.2 L413.4 754.1 L412.4 756.2 L411.8 758.5" fill="none" stroke="#c4c4c6" stroke-width="3.6" stroke-linecap="round" transform="translate(0 -0.5)"/>
<path d="M473.1 760.0 L472.7 758.8 L471.8 757.5 L470.5 756.2 L468.8 754.8 L466.6 753.3 L464.1 752.0 L461.1 750.6 L457.9 749.4 L454.5 748.3 L450.8 747.3 L447.1 746.6 L443.2 746.0 L439.3 745.7 L435.5 745.6 L431.8 745.7 L428.2 746.2 L424.9 746.9 L421.9 747.8 L419.2 749.0 L416.8 750.5 L414.9 752.2 L413.4 754.1 L412.4 756.2 L411.8 758.5" fill="none" stroke="#ffffff" stroke-width="2" stroke-linecap="round" transform="translate(0 -1)" stroke-dasharray="22 60" stroke-dashoffset="-18"/>
<path d="M462.4 789.7 L462.0 788.5 L461.2 787.2 L459.9 785.8 L458.1 784.4 L455.9 782.9 L453.3 781.5 L450.4 780.2 L447.1 778.9 L443.6 777.8 L439.9 776.8 L436.1 776.0 L432.2 775.4 L428.3 775.1 L424.4 775.0 L420.6 775.2 L417.0 775.6 L413.7 776.3 L410.6 777.2 L407.9 778.5 L405.5 779.9 L403.5 781.7 L402.0 783.6 L401.0 785.7 L400.4 788.0" fill="none" stroke="#443c3c" stroke-width="8" stroke-linecap="round"/>
<path d="M462.4 789.7 L462.0 788.5 L461.2 787.2 L459.9 785.8 L458.1 784.4 L455.9 782.9 L453.3 781.5 L450.4 780.2 L447.1 778.9 L443.6 777.8 L439.9 776.8 L436.1 776.0 L432.2 775.4 L428.3 775.1 L424.4 775.0 L420.6 775.2 L417.0 775.6 L413.7 776.3 L410.6 777.2 L407.9 778.5 L405.5 779.9 L403.5 781.7 L402.0 783.6 L401.0 785.7 L400.4 788.0" fill="none" stroke="#8c8a8c" stroke-width="6.4" stroke-linecap="round"/>
<path d="M462.4 789.7 L462.0 788.5 L461.2 787.2 L459.9 785.8 L458.1 784.4 L455.9 782.9 L453.3 781.5 L450.4 780.2 L447.1 778.9 L443.6 777.8 L439.9 776.8 L436.1 776.0 L432.2 775.4 L428.3 775.1 L424.4 775.0 L420.6 775.2 L417.0 775.6 L413.7 776.3 L410.6 777.2 L407.9 778.5 L405.5 779.9 L403.5 781.7 L402.0 783.6 L401.0 785.7 L400.4 788.0" fill="none" stroke="#c4c4c6" stroke-width="3.6" stroke-linecap="round" transform="translate(0 -0.5)"/>
<path d="M462.4 789.7 L462.0 788.5 L461.2 787.2 L459.9 785.8 L458.1 784.4 L455.9 782.9 L453.3 781.5 L450.4 780.2 L447.1 778.9 L443.6 777.8 L439.9 776.8 L436.1 776.0 L432.2 775.4 L428.3 775.1 L424.4 775.0 L420.6 775.2 L417.0 775.6 L413.7 776.3 L410.6 777.2 L407.9 778.5 L405.5 779.9 L403.5 781.7 L402.0 783.6 L401.0 785.7 L400.4 788.0" fill="none" stroke="#ffffff" stroke-width="2" stroke-linecap="round" transform="translate(0 -1)" stroke-dasharray="22 60" stroke-dashoffset="-18"/>
<path d="M451.8 819.5 L451.4 818.2 L450.5 816.9 L449.2 815.5 L447.4 814.0 L445.2 812.5 L442.6 811.1 L439.6 809.7 L436.3 808.4 L432.8 807.3 L429.0 806.3 L425.1 805.5 L421.2 804.9 L417.2 804.5 L413.3 804.4 L409.5 804.6 L405.9 805.0 L402.5 805.7 L399.4 806.7 L396.6 807.9 L394.2 809.4 L392.2 811.1 L390.7 813.1 L389.6 815.2 L389.0 817.6" fill="none" stroke="#443c3c" stroke-width="8" stroke-linecap="round"/>
<path d="M451.8 819.5 L451.4 818.2 L450.5 816.9 L449.2 815.5 L447.4 814.0 L445.2 812.5 L442.6 811.1 L439.6 809.7 L436.3 808.4 L432.8 807.3 L429.0 806.3 L425.1 805.5 L421.2 804.9 L417.2 804.5 L413.3 804.4 L409.5 804.6 L405.9 805.0 L402.5 805.7 L399.4 806.7 L396.6 807.9 L394.2 809.4 L392.2 811.1 L390.7 813.1 L389.6 815.2 L389.0 817.6" fill="none" stroke="#8c8a8c" stroke-width="6.4" stroke-linecap="round"/>
<path d="M451.8 819.5 L451.4 818.2 L450.5 816.9 L449.2 815.5 L447.4 814.0 L445.2 812.5 L442.6 811.1 L439.6 809.7 L436.3 808.4 L432.8 807.3 L429.0 806.3 L425.1 805.5 L421.2 804.9 L417.2 804.5 L413.3 804.4 L409.5 804.6 L405.9 805.0 L402.5 805.7 L399.4 806.7 L396.6 807.9 L394.2 809.4 L392.2 811.1 L390.7 813.1 L389.6 815.2 L389.0 817.6" fill="none" stroke="#c4c4c6" stroke-width="3.6" stroke-linecap="round" transform="translate(0 -0.5)"/>
<path d="M451.8 819.5 L451.4 818.2 L450.5 816.9 L449.2 815.5 L447.4 814.0 L445.2 812.5 L442.6 811.1 L439.6 809.7 L436.3 808.4 L432.8 807.3 L429.0 806.3 L425.1 805.5 L421.2 804.9 L417.2 804.5 L413.3 804.4 L409.5 804.6 L405.9 805.0 L402.5 805.7 L399.4 806.7 L396.6 807.9 L394.2 809.4 L392.2 811.1 L390.7 813.1 L389.6 815.2 L389.0 817.6" fill="none" stroke="#ffffff" stroke-width="2" stroke-linecap="round" transform="translate(0 -1)" stroke-dasharray="22 60" stroke-dashoffset="-18"/>
<path d="M441.1 849.2 L440.7 847.9 L439.9 846.6 L438.5 845.1 L436.7 843.6 L434.5 842.1 L431.8 840.7 L428.8 839.3 L425.5 838.0 L421.9 836.8 L418.1 835.8 L414.2 835.0 L410.2 834.3 L406.2 834.0 L402.2 833.9 L398.4 834.0 L394.7 834.4 L391.2 835.1 L388.1 836.1 L385.3 837.3 L382.9 838.8 L380.9 840.6 L379.3 842.6 L378.3 844.7" fill="none" stroke="#443c3c" stroke-width="8" stroke-linecap="round"/>
<path d="M441.1 849.2 L440.7 847.9 L439.9 846.6 L438.5 845.1 L436.7 843.6 L434.5 842.1 L431.8 840.7 L428.8 839.3 L425.5 838.0 L421.9 836.8 L418.1 835.8 L414.2 835.0 L410.2 834.3 L406.2 834.0 L402.2 833.9 L398.4 834.0 L394.7 834.4 L391.2 835.1 L388.1 836.1 L385.3 837.3 L382.9 838.8 L380.9 840.6 L379.3 842.6 L378.3 844.7" fill="none" stroke="#8c8a8c" stroke-width="6.4" stroke-linecap="round"/>
<path d="M441.1 849.2 L440.7 847.9 L439.9 846.6 L438.5 845.1 L436.7 843.6 L434.5 842.1 L431.8 840.7 L428.8 839.3 L425.5 838.0 L421.9 836.8 L418.1 835.8 L414.2 835.0 L410.2 834.3 L406.2 834.0 L402.2 833.9 L398.4 834.0 L394.7 834.4 L391.2 835.1 L388.1 836.1 L385.3 837.3 L382.9 838.8 L380.9 840.6 L379.3 842.6 L378.3 844.7" fill="none" stroke="#c4c4c6" stroke-width="3.6" stroke-linecap="round" transform="translate(0 -0.5)"/>
<path d="M441.1 849.2 L440.7 847.9 L439.9 846.6 L438.5 845.1 L436.7 843.6 L434.5 842.1 L431.8 840.7 L428.8 839.3 L425.5 838.0 L421.9 836.8 L418.1 835.8 L414.2 835.0 L410.2 834.3 L406.2 834.0 L402.2 833.9 L398.4 834.0 L394.7 834.4 L391.2 835.1 L388.1 836.1 L385.3 837.3 L382.9 838.8 L380.9 840.6 L379.3 842.6 L378.3 844.7" fill="none" stroke="#ffffff" stroke-width="2" stroke-linecap="round" transform="translate(0 -1)" stroke-dasharray="22 60" stroke-dashoffset="-18"/>
<path d="M430.5 878.9 L430.1 877.6 L429.2 876.3 L427.8 874.8 L426.0 873.3 L423.7 871.8 L421.1 870.3 L418.0 868.8 L414.7 867.5 L411.0 866.3 L407.2 865.3 L403.2 864.4 L399.2 863.8 L395.1 863.4 L391.1 863.3 L387.2 863.4 L383.5 863.8 L380.0 864.5 L376.8 865.5 L374.0 866.8 L371.5 868.3 L369.5 870.0 L368.0 872.0 L366.9 874.2 L366.3 876.6" fill="none" stroke="#443c3c" stroke-width="8" stroke-linecap="round"/>
<path d="M430.5 878.9 L430.1 877.6 L429.2 876.3 L427.8 874.8 L426.0 873.3 L423.7 871.8 L421.1 870.3 L418.0 868.8 L414.7 867.5 L411.0 866.3 L407.2 865.3 L403.2 864.4 L399.2 863.8 L395.1 863.4 L391.1 863.3 L387.2 863.4 L383.5 863.8 L380.0 864.5 L376.8 865.5 L374.0 866.8 L371.5 868.3 L369.5 870.0 L368.0 872.0 L366.9 874.2 L366.3 876.6" fill="none" stroke="#8c8a8c" stroke-width="6.4" stroke-linecap="round"/>
<path d="M430.5 878.9 L430.1 877.6 L429.2 876.3 L427.8 874.8 L426.0 873.3 L423.7 871.8 L421.1 870.3 L418.0 868.8 L414.7 867.5 L411.0 866.3 L407.2 865.3 L403.2 864.4 L399.2 863.8 L395.1 863.4 L391.1 863.3 L387.2 863.4 L383.5 863.8 L380.0 864.5 L376.8 865.5 L374.0 866.8 L371.5 868.3 L369.5 870.0 L368.0 872.0 L366.9 874.2 L366.3 876.6" fill="none" stroke="#c4c4c6" stroke-width="3.6" stroke-linecap="round" transform="translate(0 -0.5)"/>
<path d="M430.5 878.9 L430.1 877.6 L429.2 876.3 L427.8 874.8 L426.0 873.3 L423.7 871.8 L421.1 870.3 L418.0 868.8 L414.7 867.5 L411.0 866.3 L407.2 865.3 L403.2 864.4 L399.2 863.8 L395.1 863.4 L391.1 863.3 L387.2 863.4 L383.5 863.8 L380.0 864.5 L376.8 865.5 L374.0 866.8 L371.5 868.3 L369.5 870.0 L368.0 872.0 L366.9 874.2 L366.3 876.6" fill="none" stroke="#ffffff" stroke-width="2" stroke-linecap="round" transform="translate(0 -1)" stroke-dasharray="22 60" stroke-dashoffset="-18"/>
<path d="M419.8 908.7 L419.4 907.4 L418.5 905.9 L417.2 904.4 L415.3 902.9 L413.0 901.4 L410.3 899.8 L407.2 898.4 L403.8 897.0 L400.2 895.8 L396.3 894.7 L392.3 893.9 L388.2 893.2 L384.1 892.8 L380.0 892.7 L376.1 892.8 L372.3 893.3 L368.8 894.0 L365.6 894.9 L362.7 896.2 L360.2 897.7 L358.2 899.5 L356.6 901.5 L355.5 903.7" fill="none" stroke="#443c3c" stroke-width="8" stroke-linecap="round"/>
<path d="M419.8 908.7 L419.4 907.4 L418.5 905.9 L417.2 904.4 L415.3 902.9 L413.0 901.4 L410.3 899.8 L407.2 898.4 L403.8 897.0 L400.2 895.8 L396.3 894.7 L392.3 893.9 L388.2 893.2 L384.1 892.8 L380.0 892.7 L376.1 892.8 L372.3 893.3 L368.8 894.0 L365.6 894.9 L362.7 896.2 L360.2 897.7 L358.2 899.5 L356.6 901.5 L355.5 903.7" fill="none" stroke="#8c8a8c" stroke-width="6.4" stroke-linecap="round"/>
<path d="M419.8 908.7 L419.4 907.4 L418.5 905.9 L417.2 904.4 L415.3 902.9 L413.0 901.4 L410.3 899.8 L407.2 898.4 L403.8 897.0 L400.2 895.8 L396.3 894.7 L392.3 893.9 L388.2 893.2 L384.1 892.8 L380.0 892.7 L376.1 892.8 L372.3 893.3 L368.8 894.0 L365.6 894.9 L362.7 896.2 L360.2 897.7 L358.2 899.5 L356.6 901.5 L355.5 903.7" fill="none" stroke="#c4c4c6" stroke-width="3.6" stroke-linecap="round" transform="translate(0 -0.5)"/>
<path d="M419.8 908.7 L419.4 907.4 L418.5 905.9 L417.2 904.4 L415.3 902.9 L413.0 901.4 L410.3 899.8 L407.2 898.4 L403.8 897.0 L400.2 895.8 L396.3 894.7 L392.3 893.9 L388.2 893.2 L384.1 892.8 L380.0 892.7 L376.1 892.8 L372.3 893.3 L368.8 894.0 L365.6 894.9 L362.7 896.2 L360.2 897.7 L358.2 899.5 L356.6 901.5 L355.5 903.7" fill="none" stroke="#ffffff" stroke-width="2" stroke-linecap="round" transform="translate(0 -1)" stroke-dasharray="22 60" stroke-dashoffset="-18"/>
<path d="M409.2 938.4 L408.8 937.1 L407.9 935.6 L406.5 934.1 L404.6 932.5 L402.3 931.0 L399.6 929.4 L396.5 927.9 L393.0 926.5 L389.3 925.3 L385.4 924.2 L381.4 923.4 L377.2 922.7 L373.1 922.3 L369.0 922.2 L365.0 922.3 L361.2 922.7 L357.7 923.4 L354.4 924.4 L351.6 925.7 L349.1 927.2 L347.0 929.0 L345.5 931.1 L344.4 933.3 L343.8 935.7" fill="none" stroke="#443c3c" stroke-width="8" stroke-linecap="round"/>
<path d="M409.2 938.4 L408.8 937.1 L407.9 935.6 L406.5 934.1 L404.6 932.5 L402.3 931.0 L399.6 929.4 L396.5 927.9 L393.0 926.5 L389.3 925.3 L385.4 924.2 L381.4 923.4 L377.2 922.7 L373.1 922.3 L369.0 922.2 L365.0 922.3 L361.2 922.7 L357.7 923.4 L354.4 924.4 L351.6 925.7 L349.1 927.2 L347.0 929.0 L345.5 931.1 L344.4 933.3 L343.8 935.7" fill="none" stroke="#8c8a8c" stroke-width="6.4" stroke-linecap="round"/>
<path d="M409.2 938.4 L408.8 937.1 L407.9 935.6 L406.5 934.1 L404.6 932.5 L402.3 931.0 L399.6 929.4 L396.5 927.9 L393.0 926.5 L389.3 925.3 L385.4 924.2 L381.4 923.4 L377.2 922.7 L373.1 922.3 L369.0 922.2 L365.0 922.3 L361.2 922.7 L357.7 923.4 L354.4 924.4 L351.6 925.7 L349.1 927.2 L347.0 929.0 L345.5 931.1 L344.4 933.3 L343.8 935.7" fill="none" stroke="#c4c4c6" stroke-width="3.6" stroke-linecap="round" transform="translate(0 -0.5)"/>
<path d="M409.2 938.4 L408.8 937.1 L407.9 935.6 L406.5 934.1 L404.6 932.5 L402.3 931.0 L399.6 929.4 L396.5 927.9 L393.0 926.5 L389.3 925.3 L385.4 924.2 L381.4 923.4 L377.2 922.7 L373.1 922.3 L369.0 922.2 L365.0 922.3 L361.2 922.7 L357.7 923.4 L354.4 924.4 L351.6 925.7 L349.1 927.2 L347.0 929.0 L345.5 931.1 L344.4 933.3 L343.8 935.7" fill="none" stroke="#ffffff" stroke-width="2" stroke-linecap="round" transform="translate(0 -1)" stroke-dasharray="22 60" stroke-dashoffset="-18"/>
<path d="M398.6 968.1 L398.2 966.8 L397.3 965.4 L395.9 963.9 L394.0 962.3 L391.7 960.7 L389.0 959.2 L385.8 957.7 L382.4 956.3 L378.7 955.1 L374.8 954.0 L370.8 953.1 L366.6 952.5 L362.5 952.1 L358.4 951.9 L354.4 952.1 L350.6 952.5 L347.1 953.2 L343.8 954.2 L341.0 955.5 L338.5 957.0 L336.4 958.8 L334.9 960.8 L333.8 963.1" fill="none" stroke="#443c3c" stroke-width="8" stroke-linecap="round"/>
<path d="M398.6 968.1 L398.2 966.8 L397.3 965.4 L395.9 963.9 L394.0 962.3 L391.7 960.7 L389.0 959.2 L385.8 957.7 L382.4 956.3 L378.7 955.1 L374.8 954.0 L370.8 953.1 L366.6 952.5 L362.5 952.1 L358.4 951.9 L354.4 952.1 L350.6 952.5 L347.1 953.2 L343.8 954.2 L341.0 955.5 L338.5 957.0 L336.4 958.8 L334.9 960.8 L333.8 963.1" fill="none" stroke="#8c8a8c" stroke-width="6.4" stroke-linecap="round"/>
<path d="M398.6 968.1 L398.2 966.8 L397.3 965.4 L395.9 963.9 L394.0 962.3 L391.7 960.7 L389.0 959.2 L385.8 957.7 L382.4 956.3 L378.7 955.1 L374.8 954.0 L370.8 953.1 L366.6 952.5 L362.5 952.1 L358.4 951.9 L354.4 952.1 L350.6 952.5 L347.1 953.2 L343.8 954.2 L341.0 955.5 L338.5 957.0 L336.4 958.8 L334.9 960.8 L333.8 963.1" fill="none" stroke="#c4c4c6" stroke-width="3.6" stroke-linecap="round" transform="translate(0 -0.5)"/>
<path d="M398.6 968.1 L398.2 966.8 L397.3 965.4 L395.9 963.9 L394.0 962.3 L391.7 960.7 L389.0 959.2 L385.8 957.7 L382.4 956.3 L378.7 955.1 L374.8 954.0 L370.8 953.1 L366.6 952.5 L362.5 952.1 L358.4 951.9 L354.4 952.1 L350.6 952.5 L347.1 953.2 L343.8 954.2 L341.0 955.5 L338.5 957.0 L336.4 958.8 L334.9 960.8 L333.8 963.1" fill="none" stroke="#ffffff" stroke-width="2" stroke-linecap="round" transform="translate(0 -1)" stroke-dasharray="22 60" stroke-dashoffset="-18"/>
<polygon points="462.4,632.9 468.5,630.4 491.8,647.6 501.7,661.1 488.2,662.4 463.6,653.7 461.1,641.5" fill="#2a2a2c" />
<polygon points="487.7,602.6 492.6,603.4 482.8,630.4 477.8,629.2" fill="url(#pin)" />
<ellipse cx="476.4" cy="641.9" rx="12" ry="11" fill="url(#g13)"/>
<path d="M475.4 581.2 C475.4 578.8 476.6 578.4 478.9 577.1 C481.3 575.8 482.3 574.1 489.6 573.5 C496.8 572.9 515.9 571.8 522.6 573.5 C529.3 575.3 529.7 579.1 529.7 584.2 C529.7 589.2 525.0 600.2 522.6 603.6 C520.2 607.0 518.5 604.4 515.5 604.5 C512.6 604.5 509.2 604.8 504.9 604.0 C500.6 603.2 493.9 601.6 489.6 599.5 C485.2 597.4 481.3 594.3 478.9 591.2 C476.6 588.2 475.4 583.6 475.4 581.2Z" fill="url(#g14)" />
<polygon points="510.8,605.4 527.3,605.4 509.6,676.2 495.5,673.8" fill="url(#g15)" />
<path d="M636.9 84.1 C634.7 84.1 628.1 83.7 623.4 84.1 C618.7 84.5 613.6 85.2 608.7 86.5 C603.7 87.9 598.8 89.4 593.9 92.0 C589.0 94.5 583.5 97.9 579.2 101.8 C574.9 105.7 571.2 110.4 568.1 115.3 C565.0 120.2 562.4 126.2 560.7 131.3 C559.0 136.4 558.1 141.1 557.8 146.0 C557.5 151.0 557.9 155.9 559.0 160.8 C560.1 165.7 562.1 170.6 564.4 175.5 C566.8 180.5 569.7 185.4 573.0 190.3 C576.3 195.2 580.1 200.3 584.1 205.0 C588.1 209.7 594.7 216.3 596.9 218.6 L613.6 180.5 L628.3 175.5 L682.4 163.2 L677.5 141.1 L664.0 128.8 L655.9 101.8 L650.5 103.0 L649.2 93.2Z" fill="#2c2c2e" />
<path d="M636.9 84.1 C634.7 84.1 628.1 83.7 623.4 84.1 C618.7 84.5 613.6 85.2 608.7 86.5 C603.7 87.9 598.8 89.4 593.9 92.0 C589.0 94.5 583.5 97.9 579.2 101.8 C574.9 105.7 571.2 110.4 568.1 115.3 C565.0 120.2 562.4 126.2 560.7 131.3 C559.0 136.4 558.1 141.1 557.8 146.0 C557.5 151.0 557.9 155.9 559.0 160.8 C560.1 165.7 563.5 173.1 564.4 175.5 L579.2 194.0 C577.7 191.7 572.6 185.2 570.6 180.5 C568.5 175.7 567.1 170.6 566.9 165.7 C566.7 160.8 567.7 156.3 569.3 151.0 C571.0 145.6 573.0 139.1 576.7 133.7 C580.4 128.4 585.7 122.9 591.5 119.0 C597.2 115.1 604.8 112.2 611.1 110.4 C617.5 108.5 626.5 108.3 629.6 107.9Z" fill="url(#g16)" />
<path d="M625.4 136.7 C622.6 137.1 614.1 137.5 608.7 139.2 C603.2 140.8 597.6 143.4 592.7 146.5 C587.8 149.6 582.7 153.8 579.2 157.8 C575.6 161.9 572.9 166.4 571.3 170.6 C569.7 174.8 569.7 180.9 569.3 182.9 L574.2 192.7 C574.5 191.5 574.0 188.6 575.5 185.4 C576.9 182.2 579.4 177.5 582.9 173.6 C586.3 169.7 591.7 165.2 596.4 162.0 C601.1 158.9 606.1 156.4 611.1 154.6 C616.1 152.9 623.8 152.0 626.4 151.4Z" fill="url(#g17)" />
<path d="M664.0 128.8 C669.9 129.2 692.4 129.7 699.6 131.3 C706.9 132.8 703.4 137.0 707.5 138.2 C711.6 139.3 721.4 138.2 724.2 138.2 L738.9 148.0 C739.8 149.3 743.0 152.5 744.4 155.9 C745.7 159.2 746.7 163.7 746.8 168.2 C746.9 172.7 746.8 176.8 745.1 182.9 C743.4 189.1 740.4 198.5 736.5 205.0 C732.6 211.6 727.5 217.3 721.7 222.2 C716.0 227.2 708.6 231.3 702.1 234.5 C695.5 237.7 688.6 240.3 682.4 241.4 C676.3 242.6 669.5 242.6 665.2 241.4 C660.9 240.2 658.0 235.3 656.6 234.0 L677.5 163.2 Z" fill="#29292b" />
<polygon points="719.3,181.7 740.2,175.5 736.5,197.7 724.2,217.3 705.8,229.6 705.0,202.1 719.3,194.7" fill="#323234" />
<polygon points="667.7,146.5 705.8,146.5 707.5,138.2 724.2,138.2 738.9,148.0 743.4,154.6 740.2,175.5 719.3,181.7 719.3,194.7 705.0,202.1 662.7,202.1" fill="url(#g18)" />
<polygon points="615.4,180.1 623.0,176.8 631.9,176.0 625.4,141.8 641.9,140.0 660.8,140.6 670.2,145.3 677.3,153.6 681.4,165.4 530.1,604.0 477.8,580.7" fill="url(#g19)" />
<polygon points="613.9,335.0 619.4,335.0 528.0,600.0 522.5,600.0" fill="url(#g20)" />
<polygon points="625.4,141.8 646.6,140.0 649.0,153.6 645.5,170.1 631.9,176.0" fill="url(#g21)" />
<polygon points="562.6,283.7 565.4,283.0 477.8,530.3 471.7,550.0 473.2,561.8 438.9,658.0 396.1,775.7 336.9,930.0 323.4,927.5 336.9,879.6 335.7,878.4 367.7,797.3 426.7,640.0 479.1,498.3 502.9,440.7" fill="url(#g22)" />
<polygon points="563.1,283.7 557.4,290.7 560.5,290.7" fill="#241c14" />
<polygon points="560.3,291.0 554.6,298.0 557.7,298.0" fill="#241c14" />
<polygon points="557.5,298.3 551.8,305.3 554.9,305.3" fill="#241c14" />
<polygon points="554.8,305.6 549.0,312.6 552.1,312.6" fill="#241c14" />
<polygon points="552.0,312.9 546.3,319.9 549.4,319.9" fill="#241c14" />
<polygon points="549.2,320.2 543.5,327.2 546.6,327.2" fill="#241c14" />
<polygon points="546.4,327.5 540.7,334.5 543.8,334.5" fill="#241c14" />
<polygon points="543.7,334.8 537.9,341.8 541.0,341.8" fill="#241c14" />
<polygon points="540.9,342.1 535.2,349.1 538.3,349.1" fill="#241c14" />
<polygon points="538.1,349.4 532.4,356.4 535.5,356.4" fill="#241c14" />
<polygon points="535.3,356.7 529.6,363.7 532.7,363.7" fill="#241c14" />
<polygon points="532.6,364.0 526.8,371.0 529.9,371.0" fill="#241c14" />
<polygon points="529.8,371.3 524.1,378.3 527.2,378.3" fill="#241c14" />
<polygon points="527.0,378.6 521.3,385.6 524.4,385.6" fill="#241c14" />
<polygon points="524.3,385.9 518.5,392.9 521.6,392.9" fill="#241c14" />
<polygon points="521.5,393.2 515.7,400.2 518.8,400.2" fill="#241c14" />
<polygon points="518.7,400.5 513.0,407.5 516.1,407.5" fill="#241c14" />
<polygon points="515.9,407.8 510.2,414.8 513.3,414.8" fill="#241c14" />
<polygon points="513.2,415.1 507.4,422.1 510.5,422.1" fill="#241c14" />
<polygon points="510.4,422.4 504.6,429.4 507.7,429.4" fill="#241c14" />
<polygon points="507.6,429.7 501.9,436.7 505.0,436.7" fill="#241c14" />
<polygon points="504.8,437.0 499.1,444.0 502.2,444.0" fill="#241c14" />
<polygon points="479.6,498.3 473.8,505.5 476.9,505.5" fill="#241c14" />
<polygon points="476.8,505.8 471.0,513.0 474.1,513.0" fill="#241c14" />
<polygon points="474.0,513.3 468.3,520.5 471.4,520.5" fill="#241c14" />
<polygon points="471.2,520.8 465.5,528.0 468.6,528.0" fill="#241c14" />
<polygon points="468.5,528.3 462.7,535.5 465.8,535.5" fill="#241c14" />
<polygon points="465.7,535.8 460.0,543.0 463.1,543.0" fill="#241c14" />
<polygon points="462.9,543.3 457.2,550.5 460.3,550.5" fill="#241c14" />
<polygon points="460.1,550.8 454.4,558.0 457.5,558.0" fill="#241c14" />
<polygon points="457.4,558.3 451.6,565.5 454.7,565.5" fill="#241c14" />
<polygon points="454.6,565.8 448.9,573.0 452.0,573.0" fill="#241c14" />
<polygon points="451.8,573.3 446.1,580.5 449.2,580.5" fill="#241c14" />
<polygon points="449.0,580.8 443.3,588.0 446.4,588.0" fill="#241c14" />
<polygon points="446.3,588.3 440.5,595.5 443.6,595.5" fill="#241c14" />
<polygon points="443.5,595.8 437.8,603.0 440.9,603.0" fill="#241c14" />
<polygon points="440.7,603.3 435.0,610.5 438.1,610.5" fill="#241c14" />
<polygon points="437.9,610.8 432.2,618.0 435.3,618.0" fill="#241c14" />
<polygon points="435.2,618.3 429.4,625.5 432.5,625.5" fill="#241c14" />
<polygon points="432.4,625.8 426.7,633.0 429.8,633.0" fill="#241c14" />
<polygon points="429.6,633.3 423.9,640.5 427.0,640.5" fill="#241c14" />
<polygon points="427.2,640.0 421.3,647.3 424.4,647.3" fill="#241c14" />
<polygon points="424.3,647.7 418.4,655.0 421.5,655.0" fill="#241c14" />
<polygon points="421.4,655.4 415.5,662.7 418.6,662.7" fill="#241c14" />
<polygon points="418.5,663.1 412.7,670.4 415.8,670.4" fill="#241c14" />
<polygon points="415.6,670.8 409.8,678.1 412.9,678.1" fill="#241c14" />
<polygon points="412.7,678.5 406.9,685.8 410.0,685.8" fill="#241c14" />
<polygon points="409.8,686.2 404.0,693.5 407.1,693.5" fill="#241c14" />
<polygon points="406.9,693.9 401.1,701.2 404.2,701.2" fill="#241c14" />
<polygon points="404.1,701.6 398.2,708.9 401.3,708.9" fill="#241c14" />
<polygon points="401.2,709.3 395.3,716.6 398.4,716.6" fill="#241c14" />
<polygon points="398.3,717.0 392.4,724.3 395.5,724.3" fill="#241c14" />
<polygon points="395.4,724.7 389.6,732.0 392.7,732.0" fill="#241c14" />
<polygon points="392.5,732.4 386.7,739.7 389.8,739.7" fill="#241c14" />
<polygon points="389.6,740.1 383.8,747.4 386.9,747.4" fill="#241c14" />
<polygon points="386.7,747.8 380.9,755.1 384.0,755.1" fill="#241c14" />
<polygon points="383.8,755.5 378.0,762.8 381.1,762.8" fill="#241c14" />
<polygon points="381.0,763.2 375.1,770.5 378.2,770.5" fill="#241c14" />
<polygon points="378.1,770.9 372.2,778.2 375.3,778.2" fill="#241c14" />
<polygon points="375.2,778.6 369.3,785.9 372.4,785.9" fill="#241c14" />
<polygon points="372.3,786.3 366.5,793.6 369.6,793.6" fill="#241c14" />
<polygon points="369.4,794.0 363.6,801.3 366.7,801.3" fill="#241c14" />
<polygon points="565.4,283.0 574.3,267.2 583.9,297.5 557.2,387.2 519.5,497.3 490.1,572.1 482.6,578.9 473.2,561.8 471.7,550.0 477.8,530.3 490.2,547.5 547.6,387.2 536.8,373.0" fill="url(#g23)" />
<polygon points="536.8,373.0 547.6,387.2 490.2,547.5 477.8,530.3" fill="url(#foamL)" />
<polygon points="546.1,346.4 550.9,352.6 546.1,368.4 541.3,362.2" fill="#d9c314" />
<polygon points="575.0,303.0 581.6,311.9 577.1,327.1 575.0,338.1 568.1,349.1 559.2,346.4 565.4,335.4 569.5,321.6" fill="#cdb40e" />
<polygon points="576.4,314.7 579.1,321.6 575.0,332.6 571.5,327.1" fill="#6a5a08" />
<polygon points="473.2,561.8 438.9,658.0 396.1,775.7 336.9,930.0 350.9,932.0 405.5,775.7 451.6,658.0 477.9,574.2" fill="url(#g24)" />
<polygon points="377.5,810.8 381.2,815.8 377.0,831.7 373.3,826.8" fill="#e8c818" />
<polygon points="383.6,794.9 387.3,797.3 385.4,803.5 381.9,801.0" fill="#a02820" />
<polygon points="678.0,343.6 679.7,348.5 672.1,400.0 479.5,949.6 472.1,971.7 462.2,984.0 450.0,1001.2 445.5,1018.0 436.0,1000.0 424.0,975.0 428.0,958.0 465.0,949.6 650.0,414.7 658.8,349.0" fill="#19191b" />
<polygon points="658.8,349.0 676.5,350.0 679.0,352.0 671.5,356.5 676.2,360.1 668.7,364.6 673.4,368.2 665.9,372.7 670.6,376.3 663.1,380.8 667.8,384.4 660.2,388.9 665.0,392.5 657.4,397.0 662.2,400.6 654.6,405.1 659.4,408.7 651.8,413.2 656.6,416.8 649.0,421.3 653.8,424.9 646.2,429.4 651.0,433.0 643.4,437.5 648.2,441.1 640.6,445.6 645.4,449.2 637.8,453.7 642.6,457.3 635.0,461.8 639.7,465.4 632.2,469.9 636.9,473.5 629.4,478.0 634.1,481.6 626.6,486.1 631.3,489.7 623.8,494.2 628.5,497.8 621.0,502.3 625.7,505.9 618.2,510.4 622.9,514.0 615.4,518.5 620.1,522.1 612.6,526.6 617.3,530.2 609.8,534.7 614.5,538.3 607.0,542.8 611.7,546.4 604.2,550.9 608.9,554.5 601.4,559.0 606.1,562.6 598.5,567.1 603.3,570.7 595.7,575.2 600.5,578.8 592.9,583.3 597.7,586.9 590.1,591.4 594.9,595.0 587.3,599.5 592.1,603.1 584.5,607.6 589.3,611.2 581.7,615.7 586.5,619.3 578.9,623.8 583.7,627.4 576.1,631.9 580.9,635.5 573.3,640.0 578.0,643.6 570.5,648.1 575.2,651.7 567.7,656.2 572.4,659.8 564.9,664.3 569.6,667.9 562.1,672.4 566.8,676.0 559.3,680.5 564.0,684.1 556.5,688.6 561.2,692.2 553.7,696.7 558.4,700.3 550.9,704.8 555.6,708.4 548.1,712.9 552.8,716.5 545.3,721.0 550.0,724.6 542.5,729.1 547.2,732.7 539.7,737.2 544.4,740.8 536.9,745.3 541.6,748.9 534.0,753.4 538.8,757.0 531.2,761.5 536.0,765.1 528.4,769.6 533.2,773.2 525.6,777.7 530.4,781.3 522.8,785.8 527.6,789.4 520.0,793.9 524.8,797.5 517.2,802.0 522.0,805.6 514.4,810.1 519.2,813.7 511.6,818.2 516.3,821.8 508.8,826.3 513.5,829.9 506.0,834.4 510.7,838.0 503.2,842.5 507.9,846.1 500.4,850.6 505.1,854.2 497.6,858.7 502.3,862.3 494.8,866.8 499.5,870.4 492.0,874.9 496.7,878.5 489.2,883.0 493.9,886.6 486.4,891.1 491.1,894.7 483.6,899.2 488.3,902.8 480.8,907.3 485.5,910.9 478.0,915.4 482.7,919.0 475.2,923.5 479.9,927.1 472.3,931.6 477.1,935.2 469.5,939.7 474.3,943.3 466.7,947.8 457.3,974.2 453.6,973.7 422.2,969.3 448.7,890.6 552.1,605.8 552.9,607.7 567.6,608.9 575.0,586.1" fill="url(#g25)" />
<polygon points="617.0,333.7 628.1,325.9 671.1,329.6 675.5,333.7 678.0,343.6 658.8,349.0 575.0,586.1 567.6,608.9 557.0,607.7 552.9,607.0 520.9,602.8 527.5,602.8 620.3,333.7" fill="url(#g26)" />
<polygon points="555.3,586.3 561.0,587.8 556.0,608.5 550.6,607.0" fill="#3c3a38" />
<polygon points="599.6,427.0 629.1,430.0 575.0,586.1 544.2,583.1" fill="url(#foamR)" />
<polygon points="617.2,335.9 637.3,340.0 630.8,360.7 625.5,371.3 621.4,385.5 617.8,385.5 615.5,375.4 616.6,361.9 616.0,359.5 615.5,343.0" fill="#f4dc1c" />
<polygon points="607.2,361.9 616.6,361.9 615.5,375.4 617.8,384.9 601.3,383.7 604.8,368.9" fill="#b9a412" />
<polygon points="615.5,343.0 616.2,360.9 607.4,360.9 611.0,351.2" fill="#2c2808" />
<polygon points="615.5,375.4 617.8,384.9 611.9,384.3" fill="#8a7808" />
<polygon points="611.9,341.8 615.5,343.0 611.0,351.2 607.4,360.9 604.8,368.9 601.3,383.7 598.9,383.1 607.2,353.6" fill="#c29a1a" />
<polygon points="625.6,401.3 640.3,402.6 635.4,417.3 620.7,416.1" fill="#f6e222" />
<polygon points="533.2,606.5 552.9,607.7 524.3,700.0 472.4,841.6 472.1,845.1 467.6,861.1 457.3,888.2 448.7,890.6 422.2,969.3 405.7,961.9 445.6,857.3 496.8,709.4 531.2,608.3" fill="url(#g27)" />
<polygon points="471.6,826.0 474.8,827.5 472.7,844.0 467.7,842.4" fill="#5a1a14" />
<polygon points="453.6,859.9 467.6,861.1 463.5,874.6 450.0,873.4" fill="#f4dc1c" />
<polygon points="500.7,700.8 517.2,702.0 516.0,712.6 499.4,711.3" fill="url(#pinh)" />
<polygon points="487.3,737.8 504.6,739.0 503.4,748.8 486.1,747.5" fill="url(#pinh)" />
<polygon points="479.5,759.8 496.8,761.0 495.5,770.8 478.2,769.5" fill="url(#pinh)" />
<polygon points="468.4,790.5 485.7,791.7 484.5,799.9 467.2,798.6" fill="url(#pinh)" />
<polygon points="525.0,631.6 542.2,633.1 540.8,643.9 523.6,642.4" fill="url(#pinh)" />
<polygon points="514.0,668.5 530.0,670.0 528.5,680.8 512.5,679.3" fill="url(#pinh)" />
<polygon points="404.0,957.0 423.0,964.0 458.0,973.0 452.0,1000.0 440.0,1002.0 418.0,978.0" fill="#2a2a2c" />
<polygon points="422.2,969.3 453.6,973.7 457.3,984.0 447.5,986.5 422.9,976.7" fill="#2a2a2c" />
<polygon points="422.9,972.2 450.0,976.7 448.7,982.8 424.1,976.7" fill="#a0a0a2" />
<polygon points="617.5,517.5 645.5,526.6 634.0,564.2 602.0,569.1" fill="url(#g28)" />
<polygon points="645.5,526.6 658.6,569.6 647.5,606.5 595.9,624.9 597.8,616.3 602.0,569.1 634.0,564.2" fill="url(#g29)" />
<polygon points="645.5,526.6 658.6,569.6 647.5,606.5 634.0,564.2" fill="#2a2a2c" />
<polyline points="614.4,518.5 619.0,522.5 611.6,526.5 616.2,530.5 608.8,534.5 613.4,538.5 606.1,542.5 610.7,546.5 603.3,550.5 607.9,554.5 600.5,558.5 605.1,562.5 597.7,566.5" fill="none" stroke="#1e1e20" stroke-width="0.9"/>
<path d="M253.2 943.4 C257.9 941.5 270.6 934.6 281.5 932.3 C292.4 929.9 308.9 929.4 318.3 929.3 C327.7 929.2 331.4 930.4 338.0 931.8 C344.6 933.2 348.7 934.3 357.7 937.7 C366.7 941.1 381.1 946.1 392.1 952.0 C403.2 957.9 415.8 965.9 424.0 972.9 C432.2 979.9 437.7 988.2 441.2 993.7 C444.7 999.2 444.3 1004.0 444.9 1006.0 L424.0 1077.3 L421.6 1082.2 C420.0 1084.2 417.4 1091.0 411.7 1094.5 C406.0 1098.0 396.6 1101.2 387.2 1103.1 C377.8 1104.9 366.7 1106.0 355.2 1105.6 C343.7 1105.2 330.6 1103.8 318.3 1100.7 C306.0 1097.6 293.0 1093.2 281.5 1087.2 C270.0 1081.2 257.7 1072.4 249.5 1065.0 C241.3 1057.6 236.0 1049.5 232.3 1042.9 C228.6 1036.4 228.0 1030.6 227.4 1025.7 C226.8 1020.8 228.4 1015.5 228.6 1013.4Z" fill="url(#g30)" />
<g clip-path="url(#cc31)">
<path d="M229.8 1014.6 C232.7 1012.8 238.4 1007.1 247.0 1003.6 C255.6 1000.1 269.6 995.1 281.5 993.7 C293.4 992.3 306.0 993.0 318.3 995.0 C330.6 997.0 343.7 1001.3 355.2 1006.0 C366.7 1010.7 377.8 1016.6 387.2 1023.2 C396.6 1029.8 405.6 1038.4 411.7 1045.4 C417.8 1052.4 421.7 1059.7 424.0 1065.0 C426.3 1070.3 425.1 1075.2 425.3 1077.3 L421.6 1082.2 C420.0 1084.2 417.4 1091.0 411.7 1094.5 C406.0 1098.0 396.6 1101.2 387.2 1103.1 C377.8 1104.9 366.7 1106.0 355.2 1105.6 C343.7 1105.2 330.6 1103.8 318.3 1100.7 C306.0 1097.6 293.0 1093.2 281.5 1087.2 C270.0 1081.2 257.7 1072.4 249.5 1065.0 C241.3 1057.6 236.0 1049.5 232.3 1042.9 C228.6 1036.4 228.0 1030.6 227.4 1025.7 C226.8 1020.8 228.4 1015.5 228.6 1013.4 L229.8 1014.6 Z" fill="url(#g32)" />
<path d="M236.5 1017.1 C239.2 1015.4 244.5 1010.2 252.5 1006.9 C260.5 1003.7 273.6 999.0 284.6 997.7 C295.7 996.4 307.4 997.0 318.8 998.9 C330.3 1000.8 342.5 1004.8 353.2 1009.1 C363.8 1013.5 374.2 1019.0 382.9 1025.1 C391.7 1031.3 400.0 1039.3 405.7 1045.8 C411.4 1052.3 415.0 1059.1 417.1 1064.0 C419.2 1069.0 418.1 1073.6 418.3 1075.5 L417.3 1080.8 C415.6 1082.7 412.6 1088.9 407.0 1092.1 C401.4 1095.3 392.7 1098.5 383.8 1100.2 C374.9 1102.0 364.4 1103.0 353.6 1102.6 C342.7 1102.2 330.3 1100.9 318.7 1098.0 C307.1 1095.1 294.8 1090.8 283.9 1085.2 C273.1 1079.6 261.5 1071.2 253.7 1064.2 C246.0 1057.3 240.9 1049.5 237.5 1043.3 C234.0 1037.2 233.4 1031.7 232.8 1027.1 C232.2 1022.4 233.8 1017.4 234.0 1015.5 L236.5 1017.1 Z" fill="url(#g33)" />
<path d="M229.8 1014.6 C232.7 1012.8 238.4 1007.1 247.0 1003.6 C255.6 1000.1 269.6 995.1 281.5 993.7 C293.4 992.3 306.0 993.0 318.3 995.0 C330.6 997.0 343.7 1001.3 355.2 1006.0 C366.7 1010.7 377.8 1016.6 387.2 1023.2 C396.6 1029.8 405.6 1038.4 411.7 1045.4 C417.8 1052.4 421.7 1059.7 424.0 1065.0 C426.3 1070.3 425.1 1075.2 425.3 1077.3" fill="none" stroke="#808082" stroke-width="1.2" opacity="0.8"/>
</g>
<ellipse cx="348" cy="1066" rx="28" ry="16" transform="rotate(20 348 1066)" fill="url(#g34)"/>
<ellipse cx="322" cy="1055.5" rx="10.5" ry="6.2" transform="rotate(18 322 1055.5)" fill="#3e3e40"/>
<ellipse cx="324.5" cy="1057" rx="6" ry="3.4" transform="rotate(18 324.5 1057)" fill="#848486"/>
<ellipse cx="323" cy="1055.8" rx="3.2" ry="2" transform="rotate(18 323 1055.8)" fill="#2e2e30"/>
<text x="858.2" y="153.8" textLength="82.2" lengthAdjust="spacingAndGlyphs">Rod Button</text>
<line x1="843.3" y1="147.9" x2="747.0" y2="147.9" stroke="#1a6ab3" stroke-width="1.9"/>
<polygon points="739.0,147.9 753.5,143.5 753.5,152.3" fill="#1a6ab3" />
<text x="809.4" y="296.0" textLength="78.9" lengthAdjust="spacingAndGlyphs">Piston Rod</text>
<line x1="793.7" y1="290.3" x2="646.3" y2="290.3" stroke="#1a6ab3" stroke-width="1.9"/>
<polygon points="638.3,290.3 652.8,285.9 652.8,294.7" fill="#1a6ab3" />
<text x="792.6" y="345.1" textLength="95.7" lengthAdjust="spacingAndGlyphs">Positive Stop</text>
<line x1="776.9" y1="336.6" x2="680.7" y2="336.6" stroke="#1a6ab3" stroke-width="1.9"/>
<polygon points="672.7,336.6 687.2,332.2 687.2,341.0" fill="#1a6ab3" />
<text x="780.5" y="377.1" textLength="41.0" lengthAdjust="spacingAndGlyphs">Seals</text>
<line x1="765.2" y1="371.0" x2="628.0" y2="371.0" stroke="#1a6ab3" stroke-width="1.9"/>
<polygon points="620.0,371.0 634.5,366.6 634.5,375.4" fill="#1a6ab3" />
<text x="763.8" y="427.4" textLength="95.2" lengthAdjust="spacingAndGlyphs">Main Bearing</text>
<line x1="748.7" y1="421.7" x2="603.0" y2="421.7" stroke="#1a6ab3" stroke-width="1.9"/>
<polygon points="595.0,421.7 609.5,417.3 609.5,426.1" fill="#1a6ab3" />
<text x="738.3" y="490.8" textLength="91.0" lengthAdjust="spacingAndGlyphs">Accumulator</text>
<line x1="724.4" y1="485.7" x2="612.5" y2="485.7" stroke="#1a6ab3" stroke-width="1.9"/>
<polygon points="604.5,485.7 619.0,481.3 619.0,490.1" fill="#1a6ab3" />
<text x="716.0" y="560.6" textLength="57.9" lengthAdjust="spacingAndGlyphs">Locknut</text>
<line x1="700.6" y1="554.4" x2="662.1" y2="554.4" stroke="#1a6ab3" stroke-width="1.9"/>
<polygon points="654.1,554.4 668.6,550.0 668.6,558.8" fill="#1a6ab3" />
<text x="692.5" y="626.8" textLength="45.6" lengthAdjust="spacingAndGlyphs">Piston</text>
<line x1="676.6" y1="621.2" x2="531.5" y2="621.2" stroke="#1a6ab3" stroke-width="1.9"/>
<polygon points="523.5,621.2 538.0,616.8 538.0,625.6" fill="#1a6ab3" />
<text x="682.0" y="656.5" textLength="88.8" lengthAdjust="spacingAndGlyphs">Check Valve</text>
<line x1="665.6" y1="651.6" x2="497.0" y2="651.6" stroke="#1a6ab3" stroke-width="1.9"/>
<polygon points="489.0,651.6 503.5,647.2 503.5,656.0" fill="#1a6ab3" />
<text x="653.4" y="736.6" textLength="101.1" lengthAdjust="spacingAndGlyphs">Return Spring</text>
<line x1="638.5" y1="730.2" x2="490.1" y2="730.2" stroke="#1a6ab3" stroke-width="1.9"/>
<polygon points="482.1,730.2 496.6,725.8 496.6,734.6" fill="#1a6ab3" />
<text x="639.5" y="773.6" textLength="295.9" lengthAdjust="spacingAndGlyphs">Pressure Chamber with Metering Orifices</text>
<line x1="624.7" y1="768.3" x2="502.3" y2="768.3" stroke="#1a6ab3" stroke-width="1.9"/>
<polygon points="494.3,768.3 508.8,763.9 508.8,772.7" fill="#1a6ab3" />
<text x="618.4" y="835.0" textLength="152.9" lengthAdjust="spacingAndGlyphs">Adjustment Chamber</text>
<line x1="601.7" y1="829.4" x2="473.1" y2="829.4" stroke="#1a6ab3" stroke-width="1.9"/>
<polygon points="465.1,829.4 479.6,825.0 479.6,833.8" fill="#1a6ab3" />
<text x="595.9" y="892.5" textLength="83.1" lengthAdjust="spacingAndGlyphs">Outer Body</text>
<line x1="583.0" y1="886.1" x2="510.3" y2="886.1" stroke="#1a6ab3" stroke-width="1.9"/>
<polygon points="502.3,886.1 516.8,881.7 516.8,890.5" fill="#1a6ab3" />
<text x="533.8" y="1071.6" textLength="152.0" lengthAdjust="spacingAndGlyphs">Adjustment Segment</text>
<line x1="519.7" y1="1065.7" x2="434.8" y2="1065.7" stroke="#1a6ab3" stroke-width="1.9"/>
<polygon points="426.8,1065.7 441.3,1061.3 441.3,1070.1" fill="#1a6ab3" />
</svg>
</body></html>
